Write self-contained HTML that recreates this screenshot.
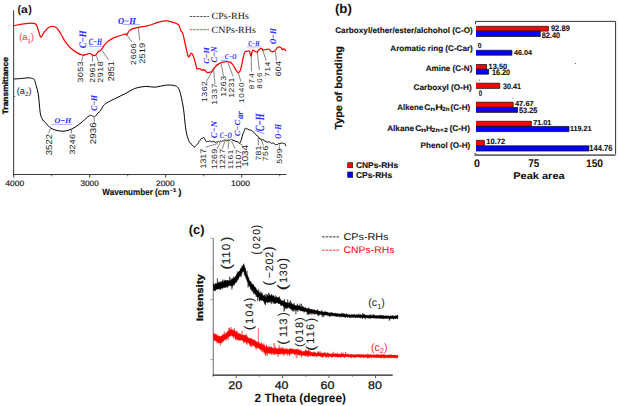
<!DOCTYPE html>
<html><head><meta charset="utf-8"><style>
html,body{margin:0;padding:0;background:#fff;width:618px;height:406px;overflow:hidden}
svg{display:block}
</style></head><body>
<svg width="618" height="406" viewBox="0 0 618 406" text-rendering="geometricPrecision">
<rect width="618" height="406" fill="#fff"/>
<line x1="13.6" y1="10.3" x2="13.6" y2="174.5" stroke="#4a4a4a" stroke-width="1.1" />
<line x1="13.1" y1="174.5" x2="286.5" y2="174.5" stroke="#3a3a3a" stroke-width="1.1" />
<line x1="13.7" y1="174.5" x2="13.7" y2="177.5" stroke="#3a3a3a" stroke-width="1" />
<line x1="89.7" y1="174.5" x2="89.7" y2="177.5" stroke="#3a3a3a" stroke-width="1" />
<line x1="165.7" y1="174.5" x2="165.7" y2="177.5" stroke="#3a3a3a" stroke-width="1" />
<line x1="241.7" y1="174.5" x2="241.7" y2="177.5" stroke="#3a3a3a" stroke-width="1" />
<line x1="51.7" y1="174.5" x2="51.7" y2="176.3" stroke="#3a3a3a" stroke-width="0.8" />
<line x1="127.7" y1="174.5" x2="127.7" y2="176.3" stroke="#3a3a3a" stroke-width="0.8" />
<line x1="203.7" y1="174.5" x2="203.7" y2="176.3" stroke="#3a3a3a" stroke-width="0.8" />
<line x1="279.7" y1="174.5" x2="279.7" y2="176.3" stroke="#3a3a3a" stroke-width="0.8" />
<line x1="13.6" y1="96.7" x2="15.2" y2="96.7" stroke="#3a3a3a" stroke-width="0.8" />
<text transform="translate(17.45,13.02) scale(0.941,1)" font-size="11.10" style='font-family:"Liberation Sans", sans-serif;font-weight:bold;font-style:normal' fill="#111" stroke="#111" stroke-width="0" >(</text>
<text transform="translate(20.92,13.42) scale(1.114,1)" font-size="10.86" style='font-family:"Liberation Sans", sans-serif;font-weight:bold;font-style:normal' fill="#111" stroke="#111" stroke-width="0" >a</text>
<text transform="translate(28.26,13.02) scale(0.973,1)" font-size="11.10" style='font-family:"Liberation Sans", sans-serif;font-weight:bold;font-style:normal' fill="#111" stroke="#111" stroke-width="0" >)</text>
<text transform="translate(8.07,114.34) rotate(-90) scale(1.070,1)" font-size="7.90" style='font-family:"Liberation Sans", sans-serif;font-weight:bold;font-style:normal' fill="#111" stroke="#111" stroke-width="0.3" >Transmittance</text>
<text transform="translate(5.3,185.82) scale(1.076,1)" font-size="7.91" style='font-family:"Liberation Sans", sans-serif;font-weight:normal;font-style:normal' fill="#222" stroke="#222" stroke-width="0.2" >4000</text>
<text transform="translate(80.49,185.82) scale(1.036,1)" font-size="7.91" style='font-family:"Liberation Sans", sans-serif;font-weight:normal;font-style:normal' fill="#222" stroke="#222" stroke-width="0.2" >3000</text>
<text transform="translate(155.98,185.82) scale(1.066,1)" font-size="7.91" style='font-family:"Liberation Sans", sans-serif;font-weight:normal;font-style:normal' fill="#222" stroke="#222" stroke-width="0.2" >2000</text>
<text transform="translate(230.95,185.82) scale(1.079,1)" font-size="7.91" style='font-family:"Liberation Sans", sans-serif;font-weight:normal;font-style:normal' fill="#222" stroke="#222" stroke-width="0.2" >1000</text>
<text transform="translate(102.37,194.69) scale(0.913,1)" font-size="8.85" style='font-family:"Liberation Sans", sans-serif;font-weight:bold;font-style:normal' fill="#111" stroke="#111" stroke-width="0.15" >Wavenumber (cm</text>
<text transform="translate(169.96,191.8) scale(1.374,1)" font-size="5.40" style='font-family:"Liberation Sans", sans-serif;font-weight:bold;font-style:normal' fill="#111" stroke="#111" stroke-width="0.1">-1</text>
<text transform="translate(178.37,194.8) scale(1.083,1)" font-size="9.00" style='font-family:"Liberation Sans", sans-serif;font-weight:bold;font-style:normal' fill="#111" stroke="#111" stroke-width="0.15">)</text>
<path d="M13.8,25.7 C15.75,25.35 21.97,23.95 25.5,23.6 C29.03,23.25 32.98,22.87 35,23.6 C37.02,24.33 36.65,25.77 37.6,28 C38.55,30.23 39.7,36.15 40.7,37 C41.7,37.85 42.4,34.62 43.6,33.1 C44.8,31.58 46.47,29.02 47.9,27.9 C49.33,26.78 50.75,26.4 52.2,26.4 C53.65,26.4 55.15,26.63 56.6,27.9 C58.05,29.17 59.47,31.7 60.9,34 C62.33,36.3 63.63,39.4 65.2,41.7 C66.77,44 68.3,45.93 70.3,47.8 C72.3,49.67 75.18,51.7 77.2,52.9 C79.22,54.1 80.82,54.77 82.4,55 C83.98,55.23 85.48,54.58 86.7,54.3 C87.92,54.02 88.75,53.18 89.7,53.3 C90.65,53.42 91.47,54.63 92.4,55 C93.33,55.37 94.37,56 95.3,55.5 C96.23,55 97.02,52.95 98,52 C98.98,51.05 99.95,51.2 101.2,49.8 C102.45,48.4 103.68,45.47 105.5,43.6 C107.32,41.73 109.85,39.87 112.1,38.6 C114.35,37.33 116.85,36.77 119,36 C121.15,35.23 123.72,34.22 125,34 C126.28,33.78 125.83,35.37 126.7,34.7 C127.57,34.03 128.33,31.22 130.2,30 C132.07,28.78 134.88,28.12 137.9,27.4 C140.92,26.68 145.13,26.5 148.3,25.7 C151.47,24.9 154.17,23.4 156.9,22.6 C159.63,21.8 162.12,20.97 164.7,20.9 C167.28,20.83 170.12,21.55 172.4,22.2 C174.68,22.85 176.97,23.35 178.4,24.8 C179.83,26.25 180.27,29.47 181,30.9 C181.73,32.33 182.08,31.1 182.8,33.4 C183.52,35.7 184.45,41.02 185.3,44.7 C186.15,48.38 187.25,53.53 187.9,55.5 C188.55,57.47 188.77,56.75 189.2,56.5 C189.63,56.25 190.14,54.51 190.5,54 C190.86,53.49 191.07,53.46 191.35,53.43 C191.63,53.4 191.89,53.37 192.2,53.8 C192.51,54.23 192.85,55.13 193.2,56 C193.55,56.87 193.97,57.94 194.3,59 C194.63,60.06 194.88,61.3 195.17,62.35 C195.46,63.4 195.74,64.22 196.03,65.3 C196.32,66.37 196.49,68.27 196.9,68.8 C197.31,69.33 198.09,68.49 198.5,68.5 C198.91,68.51 199.07,68.79 199.35,68.84 C199.63,68.89 199.91,68.65 200.2,68.8 C200.49,68.95 200.8,69.49 201.1,69.73 C201.4,69.96 201.69,70.24 202,70.2 C202.31,70.16 202.63,69.45 202.95,69.47 C203.27,69.48 203.57,70.21 203.9,70.3 C204.23,70.39 204.6,69.82 204.95,70.02 C205.3,70.22 205.56,71.07 206,71.5 C206.44,71.93 207.07,72.47 207.6,72.6 C208.13,72.73 208.68,72.37 209.2,72.3 C209.72,72.23 210.32,72.26 210.7,72.2 C211.08,72.14 211.23,72.24 211.5,71.96 C211.77,71.67 211.92,71.03 212.3,70.5 C212.68,69.97 213.18,69.55 213.8,68.8 C214.42,68.05 215.18,66.82 216,66 C216.82,65.18 217.7,64.52 218.7,63.9 C219.7,63.28 220.6,62.67 222,62.3 C223.4,61.93 225.68,61.68 227.1,61.7 C228.52,61.72 229.45,61.77 230.5,62.4 C231.55,63.03 232.62,64.43 233.4,65.5 C234.18,66.57 234.38,67.62 235.2,68.8 C236.02,69.98 237.35,72.63 238.3,72.6 C239.25,72.57 240.05,71.27 240.9,68.6 C241.75,65.93 242.73,59.37 243.4,56.6 C244.07,53.83 244.3,52.88 244.9,52 C245.5,51.12 246.27,51.45 247,51.3 C247.73,51.15 248.63,50.28 249.3,51.1 C249.97,51.92 250.45,56.32 251,56.2 C251.55,56.08 251.93,51.22 252.6,50.4 C253.27,49.58 254.27,51.03 255,51.3 C255.73,51.57 256.3,52.28 257,52 C257.7,51.72 258.4,50.18 259.2,49.6 C260,49.02 261.15,48.4 261.8,48.5 C262.45,48.6 262.3,50.05 263.1,50.2 C263.9,50.35 265.58,49.57 266.6,49.4 C267.62,49.23 268.4,48.85 269.2,49.2 C270,49.55 270.52,51.18 271.4,51.5 C272.28,51.82 273.57,51.68 274.5,51.1 C275.43,50.52 276.28,48.72 277,48 C277.72,47.28 278.13,46.87 278.8,46.8 C279.47,46.73 280.42,47.1 281,47.6 C281.58,48.1 281.87,49.58 282.3,49.8 C282.73,50.02 282.93,48.68 283.6,48.9 C284.27,49.12 285.85,50.73 286.3,51.1" fill="none" stroke="#ff0000" stroke-width="1.25" stroke-linejoin="round"/>
<path d="M13.8,79 C14.88,78.93 17.77,78.8 20.3,78.6 C22.83,78.4 26.98,77.8 29,77.8 C31.02,77.8 31.53,78.33 32.4,78.6 C33.27,78.87 33.58,78.28 34.2,79.4 C34.82,80.52 35.42,82.83 36.1,85.3 C36.78,87.77 37.73,90.75 38.3,94.2 C38.87,97.65 39.12,102.57 39.5,106 C39.88,109.43 40.05,112.47 40.6,114.8 C41.15,117.13 41.82,118.52 42.8,120 C43.78,121.48 45.32,122.45 46.5,123.7 C47.68,124.95 48.52,126.47 49.9,127.5 C51.28,128.53 52.83,129.28 54.8,129.9 C56.77,130.52 59.4,131.13 61.7,131.2 C64,131.27 66.3,131.02 68.6,130.3 C70.9,129.58 73.2,128.33 75.5,126.9 C77.8,125.47 80.1,123.57 82.4,121.7 C84.7,119.83 87.72,116.7 89.3,115.7 C90.88,114.7 91.03,115.5 91.9,115.7 C92.77,115.9 93.5,117.33 94.5,116.9 C95.5,116.47 96.9,114.12 97.9,113.1 C98.9,112.08 99.62,112.02 100.5,110.8 C101.38,109.58 102.13,107.13 103.2,105.8 C104.27,104.47 104.85,104.03 106.9,102.8 C108.95,101.57 112.33,99.98 115.5,98.4 C118.67,96.82 122.73,94.93 125.9,93.3 C129.07,91.67 131.2,89.75 134.5,88.6 C137.8,87.45 142.25,86.63 145.7,86.4 C149.15,86.17 151.9,87.4 155.2,87.2 C158.5,87 162.35,85.48 165.5,85.2 C168.65,84.92 171.95,85.02 174.1,85.5 C176.25,85.98 177.25,86.37 178.4,88.1 C179.55,89.83 180.13,92.3 181,95.9 C181.87,99.5 182.9,104.93 183.6,109.7 C184.3,114.47 184.68,120.43 185.2,124.5 C185.72,128.57 186.02,131.2 186.7,134.1 C187.38,137 188.69,140.44 189.3,141.9 C189.91,143.36 189.99,142.51 190.34,142.87 C190.69,143.23 191.03,143.61 191.38,144.06 C191.73,144.52 192.07,145.29 192.42,145.61 C192.77,145.94 193.11,145.76 193.46,146.01 C193.81,146.26 194.14,147.11 194.5,147.1 C194.86,147.09 195.26,146.31 195.63,145.94 C196.01,145.58 196.39,145.28 196.77,144.89 C197.14,144.5 197.52,144.18 197.9,143.6 C198.28,143.02 198.68,142 199.07,141.43 C199.46,140.85 199.84,140.65 200.23,140.15 C200.62,139.65 200.99,138.73 201.4,138.4 C201.81,138.07 202.27,138.32 202.7,138.18 C203.13,138.05 203.57,137.27 204,137.6 C204.43,137.93 204.87,139.44 205.3,140.16 C205.73,140.88 206.2,141.73 206.6,141.9 C207,142.07 207.32,141.29 207.68,141.21 C208.03,141.12 208.39,141.42 208.75,141.37 C209.11,141.33 209.47,140.95 209.82,140.95 C210.18,140.96 210.56,141.24 210.9,141.4 C211.24,141.56 211.54,141.83 211.86,141.89 C212.17,141.95 212.49,141.94 212.81,141.78 C213.13,141.62 213.45,140.84 213.77,140.93 C214.09,141.01 214.4,142.06 214.72,142.3 C215.04,142.53 215.36,142.39 215.68,142.33 C216,142.27 216.31,142.01 216.63,141.95 C216.95,141.89 217.27,142.05 217.59,141.95 C217.91,141.85 218.23,141.37 218.54,141.36 C218.86,141.36 219.18,141.95 219.5,141.9 C219.82,141.85 220.16,141.13 220.49,141.09 C220.81,141.06 221.14,141.72 221.47,141.68 C221.8,141.65 222.13,141.02 222.46,140.9 C222.79,140.78 223.11,140.95 223.44,140.95 C223.77,140.95 224.1,140.98 224.43,140.9 C224.76,140.82 225.09,140.45 225.41,140.47 C225.74,140.49 226.06,140.99 226.4,141 C226.74,141.01 227.12,140.68 227.47,140.52 C227.83,140.37 228.19,140.12 228.55,140.07 C228.91,140.01 229.27,140.33 229.62,140.2 C229.98,140.08 230.34,139.38 230.7,139.3 C231.06,139.22 231.42,139.58 231.77,139.75 C232.13,139.93 232.49,140.21 232.85,140.35 C233.21,140.48 233.57,140.47 233.93,140.57 C234.28,140.68 234.65,140.83 235,141 C235.35,141.17 235.69,141.48 236.04,141.59 C236.39,141.7 236.73,141.63 237.08,141.66 C237.43,141.69 237.77,141.52 238.12,141.77 C238.47,142.02 238.81,142.96 239.16,143.14 C239.51,143.31 239.81,143.47 240.2,142.8 C240.59,142.13 241.07,140.59 241.5,139.14 C241.93,137.69 242.38,135.36 242.8,134.1 C243.23,132.84 243.63,132.58 244.05,131.58 C244.47,130.58 244.9,128.54 245.3,128.1 C245.7,127.66 246.08,128.81 246.47,128.96 C246.86,129.1 247.24,128.83 247.63,128.97 C248.02,129.12 248.43,129.65 248.8,129.8 C249.17,129.95 249.52,129.77 249.88,129.87 C250.23,129.97 250.59,130.29 250.95,130.4 C251.31,130.52 251.67,130.35 252.03,130.55 C252.38,130.75 252.74,131.18 253.1,131.6 C253.46,132.02 253.82,132.71 254.17,133.05 C254.53,133.38 254.89,133.23 255.25,133.61 C255.61,133.99 255.97,134.93 256.32,135.31 C256.68,135.69 257.03,135.64 257.4,135.9 C257.77,136.16 258.18,136.39 258.57,136.87 C258.96,137.36 259.34,138.4 259.73,138.81 C260.12,139.21 260.54,139.08 260.9,139.3 C261.26,139.52 261.56,140.15 261.89,140.16 C262.21,140.16 262.54,139.37 262.87,139.34 C263.2,139.32 263.53,139.67 263.86,140.01 C264.19,140.34 264.51,141.18 264.84,141.36 C265.17,141.54 265.5,140.97 265.83,141.12 C266.16,141.26 266.49,142.07 266.81,142.2 C267.14,142.33 267.48,141.93 267.8,141.9 C268.12,141.87 268.44,142.05 268.76,142.05 C269.07,142.04 269.39,141.73 269.71,141.88 C270.03,142.03 270.35,142.69 270.67,142.95 C270.99,143.21 271.3,143.43 271.62,143.45 C271.94,143.46 272.26,143.09 272.58,143.02 C272.9,142.96 273.21,142.94 273.53,143.06 C273.85,143.17 274.17,143.39 274.49,143.69 C274.81,143.99 275.13,144.73 275.44,144.86 C275.76,145 276.05,144.55 276.4,144.5 C276.75,144.45 277.16,144.75 277.53,144.56 C277.91,144.37 278.29,143.53 278.67,143.37 C279.04,143.2 279.44,143.62 279.8,143.6 C280.16,143.58 280.49,143.34 280.84,143.24 C281.19,143.15 281.53,143.08 281.88,143.04 C282.23,143 282.57,142.82 282.92,142.98 C283.27,143.15 283.61,143.91 283.96,144.02 C284.31,144.12 284.68,143.24 285,143.6 C285.32,143.96 285.75,145.77 285.9,146.2" fill="none" stroke="#000" stroke-width="1.0" stroke-linejoin="round"/>
<line x1="189.7" y1="16.5" x2="209.2" y2="16.5" stroke="#111" stroke-width="0.7" stroke-dasharray="2.6,0.9"/>
<line x1="189.7" y1="29.7" x2="209.2" y2="29.7" stroke="#ff0000" stroke-width="0.7" stroke-dasharray="2.6,0.9"/>
<text transform="translate(211.59,19.41) scale(1.054,1)" font-size="9.53" style='font-family:"Liberation Serif", serif;font-weight:normal;font-style:normal' fill="#111" stroke="#111" stroke-width="0" >CPs-RHs</text>
<text transform="translate(211.59,32.71) scale(1.045,1)" font-size="9.53" style='font-family:"Liberation Serif", serif;font-weight:normal;font-style:normal' fill="#111" stroke="#111" stroke-width="0" >CNPs-RHs</text>
<text x="19.3" y="40.2" font-size="9.2" style='font-family:"Liberation Sans",sans-serif' fill="#ff3030">(a<tspan font-size="6.2" dy="2.4">1</tspan><tspan dy="-2.4">)</tspan></text>
<text x="16.8" y="93.6" font-size="9.2" style='font-family:"Liberation Sans",sans-serif' fill="#222">(a<tspan font-size="6.2" dy="2.4">2</tspan><tspan dy="-2.4">)</tspan></text>
<text transform="translate(83.18,82.53) rotate(-90) scale(1.15,1)" font-size="7.63" letter-spacing="0.47" style='font-family:"Liberation Sans", sans-serif;font-weight:normal;font-style:normal' fill="#1a1a1a" stroke="#1a1a1a" stroke-width="0">3053</text>
<line x1="83.5" y1="54.4" x2="81.5" y2="61.2" stroke="#333" stroke-width="0.6" />
<text transform="translate(94.58,82.63) rotate(-90) scale(1.15,1)" font-size="7.49" letter-spacing="0.20" style='font-family:"Liberation Sans", sans-serif;font-weight:normal;font-style:normal' fill="#1a1a1a" stroke="#1a1a1a" stroke-width="0">2961</text>
<line x1="92.4" y1="55" x2="92.4" y2="61.8" stroke="#333" stroke-width="0.6" />
<text transform="translate(103.48,82.64) rotate(-90) scale(1.15,1)" font-size="7.63" letter-spacing="0.50" style='font-family:"Liberation Sans", sans-serif;font-weight:normal;font-style:normal' fill="#1a1a1a" stroke="#1a1a1a" stroke-width="0">2918</text>
<line x1="96.4" y1="55.7" x2="98.5" y2="61.8" stroke="#333" stroke-width="0.6" />
<text transform="translate(113.57,81.25) rotate(-90) scale(1.0548280879087195,1)" font-size="8.47" letter-spacing="0.00" style='font-family:"Liberation Sans", sans-serif;font-weight:normal;font-style:normal' fill="#1a1a1a" stroke="#1a1a1a" stroke-width="0">2851</text>
<line x1="101.8" y1="50.3" x2="108.6" y2="59.8" stroke="#333" stroke-width="0.6" />
<text transform="translate(135.78,64.93) rotate(-90) scale(1.15,1)" font-size="7.49" letter-spacing="0.68" style='font-family:"Liberation Sans", sans-serif;font-weight:normal;font-style:normal' fill="#1a1a1a" stroke="#1a1a1a" stroke-width="0">2606</text>
<line x1="126.7" y1="34.7" x2="131.9" y2="42" stroke="#333" stroke-width="0.6" />
<text transform="translate(144.77,63.77) rotate(-90) scale(1.15,1)" font-size="8.05" letter-spacing="0.09" style='font-family:"Liberation Sans", sans-serif;font-weight:normal;font-style:normal' fill="#1a1a1a" stroke="#1a1a1a" stroke-width="0">2519</text>
<line x1="138.3" y1="27.4" x2="139.7" y2="40.3" stroke="#333" stroke-width="0.6" />
<text transform="translate(206.78,102.06) rotate(-90) scale(1.15,1)" font-size="7.49" letter-spacing="0.50" style='font-family:"Liberation Sans", sans-serif;font-weight:normal;font-style:normal' fill="#1a1a1a" stroke="#1a1a1a" stroke-width="0">1362</text>
<line x1="212.4" y1="71.2" x2="206.4" y2="81.6" stroke="#333" stroke-width="0.6" />
<text transform="translate(217.18,104.66) rotate(-90) scale(1.15,1)" font-size="7.49" letter-spacing="0.56" style='font-family:"Liberation Sans", sans-serif;font-weight:normal;font-style:normal' fill="#1a1a1a" stroke="#1a1a1a" stroke-width="0">1337</text>
<line x1="213.3" y1="67.8" x2="215" y2="84" stroke="#333" stroke-width="0.6" />
<text transform="translate(225.78,96.86) rotate(-90) scale(1.15,1)" font-size="7.49" letter-spacing="0.49" style='font-family:"Liberation Sans", sans-serif;font-weight:normal;font-style:normal' fill="#1a1a1a" stroke="#1a1a1a" stroke-width="0">1263</text>
<line x1="221" y1="63.4" x2="223.6" y2="76.4" stroke="#333" stroke-width="0.6" />
<text transform="translate(234.38,97.66) rotate(-90) scale(1.15,1)" font-size="7.49" letter-spacing="0.24" style='font-family:"Liberation Sans", sans-serif;font-weight:normal;font-style:normal' fill="#1a1a1a" stroke="#1a1a1a" stroke-width="0">1231</text>
<line x1="227.9" y1="62.6" x2="233.1" y2="76.4" stroke="#333" stroke-width="0.6" />
<text transform="translate(244.48,103.03) rotate(-90) scale(1.15,1)" font-size="7.20" letter-spacing="0.65" style='font-family:"Liberation Sans", sans-serif;font-weight:normal;font-style:normal' fill="#1a1a1a" stroke="#1a1a1a" stroke-width="0">1040</text>
<line x1="238.3" y1="72.9" x2="240.9" y2="81.5" stroke="#333" stroke-width="0.6" />
<text transform="translate(254.08,89.25) rotate(-90) scale(1.15,1)" font-size="6.92" letter-spacing="1.17" style='font-family:"Liberation Sans", sans-serif;font-weight:normal;font-style:normal' fill="#1a1a1a" stroke="#1a1a1a" stroke-width="0">874</text>
<line x1="251.3" y1="52.4" x2="251.4" y2="71.5" stroke="#333" stroke-width="0.6" />
<text transform="translate(262.08,88.65) rotate(-90) scale(1.15,1)" font-size="6.92" letter-spacing="1.22" style='font-family:"Liberation Sans", sans-serif;font-weight:normal;font-style:normal' fill="#1a1a1a" stroke="#1a1a1a" stroke-width="0">806</text>
<line x1="257.2" y1="50.7" x2="259.4" y2="70.3" stroke="#333" stroke-width="0.6" />
<text transform="translate(270.15,77.02) rotate(-90) scale(1.15,1)" font-size="7.12" letter-spacing="0.78" style='font-family:"Liberation Sans", sans-serif;font-weight:normal;font-style:normal' fill="#1a1a1a" stroke="#1a1a1a" stroke-width="0">714</text>
<line x1="262.4" y1="49" x2="266.2" y2="60.8" stroke="#333" stroke-width="0.6" />
<text transform="translate(280.57,76.35) rotate(-90) scale(1.15,1)" font-size="7.77" letter-spacing="0.22" style='font-family:"Liberation Sans", sans-serif;font-weight:normal;font-style:normal' fill="#1a1a1a" stroke="#1a1a1a" stroke-width="0">604</text>
<line x1="275.6" y1="51.6" x2="276.4" y2="60.6" stroke="#333" stroke-width="0.6" />
<text transform="translate(51.87,155.16) rotate(-90) scale(1.102950819672133,1)" font-size="8.62" letter-spacing="0.00" style='font-family:"Liberation Sans", sans-serif;font-weight:normal;font-style:normal' fill="#1a1a1a" stroke="#1a1a1a" stroke-width="0">3522</text>
<line x1="50.5" y1="128.9" x2="48.6" y2="133" stroke="#333" stroke-width="0.6" />
<text transform="translate(74.67,154.54) rotate(-90) scale(1.15,1)" font-size="7.77" letter-spacing="0.16" style='font-family:"Liberation Sans", sans-serif;font-weight:normal;font-style:normal' fill="#1a1a1a" stroke="#1a1a1a" stroke-width="0">3246</text>
<line x1="71.4" y1="129.9" x2="71.4" y2="133.5" stroke="#333" stroke-width="0.6" />
<text transform="translate(95.57,144.19) rotate(-90) scale(1.15,1)" font-size="8.47" letter-spacing="0.04" style='font-family:"Liberation Sans", sans-serif;font-weight:normal;font-style:normal' fill="#1a1a1a" stroke="#1a1a1a" stroke-width="0">2936</text>
<line x1="94.2" y1="117.9" x2="94.2" y2="122.4" stroke="#333" stroke-width="0.6" />
<text transform="translate(206.17,168.47) rotate(-90) scale(1.095215348121289,1)" font-size="8.05" letter-spacing="0.00" style='font-family:"Liberation Sans", sans-serif;font-weight:normal;font-style:normal' fill="#1a1a1a" stroke="#1a1a1a" stroke-width="0">1317</text>
<line x1="217.8" y1="143.6" x2="205.7" y2="147.1" stroke="#333" stroke-width="0.6" />
<text transform="translate(217.38,169.27) rotate(-90) scale(1.15,1)" font-size="7.63" letter-spacing="0.25" style='font-family:"Liberation Sans", sans-serif;font-weight:normal;font-style:normal' fill="#1a1a1a" stroke="#1a1a1a" stroke-width="0">1269</text>
<line x1="220.3" y1="142.8" x2="216.9" y2="148.8" stroke="#333" stroke-width="0.6" />
<text transform="translate(225.15,169.26) rotate(-90) scale(1.15,1)" font-size="7.59" letter-spacing="0.29" style='font-family:"Liberation Sans", sans-serif;font-weight:normal;font-style:normal' fill="#1a1a1a" stroke="#1a1a1a" stroke-width="0">1227</text>
<line x1="224.7" y1="141.9" x2="222.1" y2="148.8" stroke="#333" stroke-width="0.6" />
<text transform="translate(233.18,169.23) rotate(-90) scale(1.15,1)" font-size="7.20" letter-spacing="0.55" style='font-family:"Liberation Sans", sans-serif;font-weight:normal;font-style:normal' fill="#1a1a1a" stroke="#1a1a1a" stroke-width="0">1161</text>
<line x1="229" y1="140.2" x2="228.1" y2="148.8" stroke="#333" stroke-width="0.6" />
<text transform="translate(240.58,169.26) rotate(-90) scale(1.15,1)" font-size="7.49" letter-spacing="0.36" style='font-family:"Liberation Sans", sans-serif;font-weight:normal;font-style:normal' fill="#1a1a1a" stroke="#1a1a1a" stroke-width="0">1107</text>
<line x1="231.6" y1="141" x2="235" y2="148.8" stroke="#333" stroke-width="0.6" />
<text transform="translate(248.36,166.74) rotate(-90) scale(1.1154675189534675,1)" font-size="8.76" letter-spacing="0.00" style='font-family:"Liberation Sans", sans-serif;font-weight:normal;font-style:normal' fill="#1a1a1a" stroke="#1a1a1a" stroke-width="0">1034</text>
<line x1="238.4" y1="142.8" x2="242.8" y2="145.3" stroke="#333" stroke-width="0.6" />
<text transform="translate(261.28,160.44) rotate(-90) scale(1.15,1)" font-size="7.49" letter-spacing="0.13" style='font-family:"Liberation Sans", sans-serif;font-weight:normal;font-style:normal' fill="#1a1a1a" stroke="#1a1a1a" stroke-width="0">781</text>
<line x1="258.3" y1="136.7" x2="258.3" y2="145.3" stroke="#333" stroke-width="0.6" />
<text transform="translate(268.18,161.34) rotate(-90) scale(1.15,1)" font-size="7.49" letter-spacing="0.50" style='font-family:"Liberation Sans", sans-serif;font-weight:normal;font-style:normal' fill="#1a1a1a" stroke="#1a1a1a" stroke-width="0">756</text>
<line x1="260.9" y1="138.4" x2="263.4" y2="145.3" stroke="#333" stroke-width="0.6" />
<text transform="translate(281.98,163.74) rotate(-90) scale(1.15,1)" font-size="7.49" letter-spacing="0.43" style='font-family:"Liberation Sans", sans-serif;font-weight:normal;font-style:normal' fill="#1a1a1a" stroke="#1a1a1a" stroke-width="0">599</text>
<line x1="279" y1="143.6" x2="279.5" y2="148.8" stroke="#333" stroke-width="0.6" />
<text transform="translate(85.68,48.37) rotate(-90) scale(0.870,1)" font-size="10.05" style='font-family:"Liberation Serif", serif;font-weight:bold;font-style:italic' fill="#2a2aff" stroke="#2a2aff" stroke-width="0.05" >C−H</text>
<text transform="translate(88.7,45.28) scale(0.676,1)" font-size="9.60" style='font-family:"Liberation Serif", serif;font-weight:bold;font-style:italic' fill="#2a2aff" stroke="#2a2aff" stroke-width="0.05" >C−H</text>
<line x1="89" y1="46.4" x2="102.5" y2="46.4" stroke="#8c8cff" stroke-width="0.7" />
<text transform="translate(117.92,23.79) scale(0.946,1)" font-size="9.00" style='font-family:"Liberation Serif", serif;font-weight:bold;font-style:italic' fill="#2a2aff" stroke="#2a2aff" stroke-width="0.05" >O−H</text>
<line x1="122.8" y1="24.5" x2="139.8" y2="24.5" stroke="#8c8cff" stroke-width="0.7" />
<text transform="translate(208.5,63.65) rotate(-90) scale(1.045,1)" font-size="7.67" style='font-family:"Liberation Serif", serif;font-weight:bold;font-style:italic' fill="#2a2aff" stroke="#2a2aff" stroke-width="0.05" >C−H</text>
<text transform="translate(217.49,62.45) rotate(-90) scale(0.905,1)" font-size="8.86" style='font-family:"Liberation Serif", serif;font-weight:bold;font-style:italic' fill="#2a2aff" stroke="#2a2aff" stroke-width="0.05" >C−N</text>
<text transform="translate(224.83,59.2) scale(0.774,1)" font-size="7.52" style='font-family:"Liberation Serif", serif;font-weight:bold;font-style:italic' fill="#2a2aff" stroke="#2a2aff" stroke-width="0.05" >C−O</text>
<line x1="220.7" y1="60.3" x2="227.5" y2="60.3" stroke="#8c8cff" stroke-width="0.7" />
<text transform="translate(248.13,45.8) scale(0.732,1)" font-size="7.67" style='font-family:"Liberation Serif", serif;font-weight:bold;font-style:italic' fill="#2a2aff" stroke="#2a2aff" stroke-width="0.05" >C−H</text>
<line x1="246.9" y1="46.9" x2="261.6" y2="46.9" stroke="#8c8cff" stroke-width="0.7" />
<text transform="translate(276.09,44.05) rotate(-90) scale(0.849,1)" font-size="8.86" style='font-family:"Liberation Serif", serif;font-weight:bold;font-style:italic' fill="#2a2aff" stroke="#2a2aff" stroke-width="0.05" >O−H</text>
<text transform="translate(54.54,123.3) scale(1.094,1)" font-size="7.22" style='font-family:"Liberation Serif", serif;font-weight:bold;font-style:italic' fill="#2a2aff" stroke="#2a2aff" stroke-width="0.05" >O−H</text>
<line x1="51.7" y1="124.4" x2="72" y2="124.4" stroke="#8c8cff" stroke-width="0.7" />
<text transform="translate(96.89,110.73) rotate(-90) scale(0.854,1)" font-size="8.86" style='font-family:"Liberation Serif", serif;font-weight:bold;font-style:italic' fill="#2a2aff" stroke="#2a2aff" stroke-width="0.05" >C−H</text>
<text transform="translate(216.89,138.27) rotate(-90) scale(0.973,1)" font-size="8.86" style='font-family:"Liberation Serif", serif;font-weight:bold;font-style:italic' fill="#2a2aff" stroke="#2a2aff" stroke-width="0.05" >C−N</text>
<text transform="translate(219.82,138.29) scale(0.723,1)" font-size="8.26" style='font-family:"Liberation Serif", serif;font-weight:bold;font-style:italic' fill="#2a2aff" stroke="#2a2aff" stroke-width="0.05" >C−O</text>
<line x1="223.9" y1="139.3" x2="233.8" y2="139.3" stroke="#8c8cff" stroke-width="0.7" />
<text transform="translate(240.4,136.16) rotate(-90) scale(1.053,1)" font-size="7.96" style='font-family:"Liberation Serif", serif;font-weight:bold;font-style:italic' fill="#2a2aff" stroke="#2a2aff" stroke-width="0.05" >C−C</text>
<text transform="translate(242.68,119.08) rotate(-90) scale(0.935,1)" font-size="9.24" style='font-family:"Liberation Serif", serif;font-weight:bold;font-style:italic' fill="#2a2aff" stroke="#2a2aff" stroke-width="0.05" >ar</text>
<text transform="translate(264.15,133.56) rotate(-90) scale(0.672,1)" font-size="12.73" style='font-family:"Liberation Serif", serif;font-weight:bold;font-style:italic' fill="#2a2aff" stroke="#2a2aff" stroke-width="0.05" >/C−H</text>
<text transform="translate(281.49,138.63) rotate(-90) scale(0.771,1)" font-size="9.00" style='font-family:"Liberation Serif", serif;font-weight:bold;font-style:italic' fill="#2a2aff" stroke="#2a2aff" stroke-width="0.05" >O−H</text>
<text transform="translate(334.91,13.04) scale(1.028,1)" font-size="12.93" style='font-family:"Liberation Sans", sans-serif;font-weight:bold;font-style:normal' fill="#111" stroke="#111" stroke-width="0" >(b)</text>
<text transform="translate(342.13,129.62) rotate(-90) scale(1.058,1)" font-size="10.25" style='font-family:"Liberation Sans", sans-serif;font-weight:bold;font-style:normal' fill="#111" stroke="#111" stroke-width="0.2" >Type of bonding</text>
<path d="M475.6,24.3 L475.6,21.4 L615.6,21.4 L615.6,154.3" fill="none" stroke="#333" stroke-width="1"/>
<path d="M475.4,153 L475.4,155.1 L615.6,155.1" fill="none" stroke="#6a6a6a" stroke-width="1.8"/>
<rect x="476" y="26.3" width="72.45" height="4.8" fill="#ff0000"/>
<path d="M476,26.3 L548.45,26.3 L548.45,31.1 L476,31.1" fill="none" stroke="#111" stroke-width="0.75"/>
<rect x="476" y="31.1" width="64.27" height="5.4" fill="#0000ff"/>
<path d="M476,31.1 L540.27,31.1 L540.27,36.5 L476,36.5" fill="none" stroke="#111" stroke-width="0.75"/>
<rect x="476" y="50.3" width="35.91" height="4.9" fill="#0000ff"/>
<path d="M476,50.3 L511.91,50.3 L511.91,55.2 L476,55.2" fill="none" stroke="#111" stroke-width="0.75"/>
<rect x="476" y="64.5" width="10.53" height="4.8" fill="#ff0000"/>
<path d="M476,64.5 L486.53,64.5 L486.53,69.3 L476,69.3" fill="none" stroke="#111" stroke-width="0.75"/>
<rect x="476" y="69.3" width="12.64" height="4.9" fill="#0000ff"/>
<path d="M476,69.3 L488.64,69.3 L488.64,74.2 L476,74.2" fill="none" stroke="#111" stroke-width="0.75"/>
<rect x="476" y="83.2" width="23.72" height="5.2" fill="#ff0000"/>
<path d="M476,83.2 L499.72,83.2 L499.72,88.4 L476,88.4" fill="none" stroke="#111" stroke-width="0.75"/>
<rect x="476" y="102.2" width="37.18" height="5.2" fill="#ff0000"/>
<path d="M476,102.2 L513.18,102.2 L513.18,107.4 L476,107.4" fill="none" stroke="#111" stroke-width="0.75"/>
<rect x="476" y="107.4" width="41.54" height="5" fill="#0000ff"/>
<path d="M476,107.4 L517.53,107.4 L517.53,112.4 L476,112.4" fill="none" stroke="#111" stroke-width="0.75"/>
<rect x="476" y="121.3" width="55.39" height="5.1" fill="#ff0000"/>
<path d="M476,121.3 L531.39,121.3 L531.39,126.4 L476,126.4" fill="none" stroke="#111" stroke-width="0.75"/>
<rect x="476" y="126.4" width="92.98" height="5.2" fill="#0000ff"/>
<path d="M476,126.4 L568.98,126.4 L568.98,131.6 L476,131.6" fill="none" stroke="#111" stroke-width="0.75"/>
<rect x="476" y="140.3" width="8.36" height="5.5" fill="#ff0000"/>
<path d="M476,140.3 L484.36,140.3 L484.36,145.8 L476,145.8" fill="none" stroke="#111" stroke-width="0.75"/>
<rect x="476" y="145.8" width="112.91" height="5.2" fill="#0000ff"/>
<path d="M476,145.8 L588.91,145.8 L588.91,151 L476,151" fill="none" stroke="#111" stroke-width="0.75"/>
<circle cx="575.3" cy="63.4" r="0.55" fill="#555"/>
<circle cx="479.6" cy="80.1" r="0.55" fill="#555"/>
<circle cx="513" cy="98" r="0.55" fill="#555"/>
<text transform="translate(550.89,31.37) scale(0.929,1)" font-size="8.19" style='font-family:"Liberation Sans", sans-serif;font-weight:bold;font-style:normal' fill="#111" stroke="#111" stroke-width="0.1" >92.89</text>
<text transform="translate(541.71,37.97) scale(0.904,1)" font-size="8.19" style='font-family:"Liberation Sans", sans-serif;font-weight:bold;font-style:normal' fill="#111" stroke="#111" stroke-width="0.1" >82.40</text>
<text transform="translate(477.78,48.38) scale(0.953,1)" font-size="7.06" style='font-family:"Liberation Sans", sans-serif;font-weight:bold;font-style:normal' fill="#111" stroke="#111" stroke-width="0.1" >0</text>
<text transform="translate(513.94,55.18) scale(1.021,1)" font-size="7.06" style='font-family:"Liberation Sans", sans-serif;font-weight:bold;font-style:normal' fill="#111" stroke="#111" stroke-width="0.1" >46.04</text>
<text transform="translate(488.58,68.96) scale(0.975,1)" font-size="7.61" style='font-family:"Liberation Sans", sans-serif;font-weight:bold;font-style:normal' fill="#111" stroke="#111" stroke-width="0.1" >13.50</text>
<text transform="translate(491.89,75.37) scale(0.906,1)" font-size="8.05" style='font-family:"Liberation Sans", sans-serif;font-weight:bold;font-style:normal' fill="#111" stroke="#111" stroke-width="0.1" >16.20</text>
<text transform="translate(503.08,88.66) scale(0.899,1)" font-size="8.03" style='font-family:"Liberation Sans", sans-serif;font-weight:bold;font-style:normal' fill="#111" stroke="#111" stroke-width="0.1" >30.41</text>
<text transform="translate(478.81,95.67) scale(0.744,1)" font-size="8.19" style='font-family:"Liberation Sans", sans-serif;font-weight:bold;font-style:normal' fill="#111" stroke="#111" stroke-width="0.1" >0</text>
<text transform="translate(514.94,106.08) scale(1.045,1)" font-size="7.20" style='font-family:"Liberation Sans", sans-serif;font-weight:bold;font-style:normal' fill="#111" stroke="#111" stroke-width="0.1" >47.67</text>
<text transform="translate(519.02,112.66) scale(0.933,1)" font-size="7.89" style='font-family:"Liberation Sans", sans-serif;font-weight:bold;font-style:normal' fill="#111" stroke="#111" stroke-width="0.1" >53.25</text>
<text transform="translate(533.24,124.98) scale(1.005,1)" font-size="7.20" style='font-family:"Liberation Sans", sans-serif;font-weight:bold;font-style:normal' fill="#111" stroke="#111" stroke-width="0.1" >71.01</text>
<text transform="translate(570,131.18) scale(0.982,1)" font-size="7.34" style='font-family:"Liberation Sans", sans-serif;font-weight:bold;font-style:normal' fill="#111" stroke="#111" stroke-width="0.1" >119.21</text>
<text transform="translate(486.37,143.98) scale(0.989,1)" font-size="7.63" style='font-family:"Liberation Sans", sans-serif;font-weight:bold;font-style:normal' fill="#111" stroke="#111" stroke-width="0.1" >10.72</text>
<text transform="translate(589.37,151.36) scale(0.864,1)" font-size="8.76" style='font-family:"Liberation Sans", sans-serif;font-weight:bold;font-style:normal' fill="#111" stroke="#111" stroke-width="0.1" >144.76</text>
<text transform="translate(474.06,166.62) scale(0.970,1)" font-size="10.95" style='font-family:"Liberation Sans", sans-serif;font-weight:bold;font-style:normal' fill="#111" stroke="#111" stroke-width="0" >0</text>
<text transform="translate(528.25,166.62) scale(0.895,1)" font-size="11.11" style='font-family:"Liberation Sans", sans-serif;font-weight:bold;font-style:normal' fill="#111" stroke="#111" stroke-width="0" >75</text>
<text transform="translate(585.93,166.62) scale(0.937,1)" font-size="10.95" style='font-family:"Liberation Sans", sans-serif;font-weight:bold;font-style:normal' fill="#111" stroke="#111" stroke-width="0" >150</text>
<text transform="translate(513.14,179.43) scale(1.133,1)" font-size="9.74" style='font-family:"Liberation Sans", sans-serif;font-weight:bold;font-style:normal' fill="#111" stroke="#111" stroke-width="0" >Peak area</text>
<text transform="translate(335.22,33.2) scale(1.009,1)" font-size="8.10" style='font-family:"Liberation Sans", sans-serif;font-weight:bold;font-style:normal' fill="#111" stroke="#111" stroke-width="0.12">Carboxyl/ether/ester/alchohol (C-O)</text>
<text transform="translate(390.36,50.9) scale(1.002,1)" font-size="8.10" style='font-family:"Liberation Sans", sans-serif;font-weight:bold;font-style:normal' fill="#111" stroke="#111" stroke-width="0.12">Aromatic ring (C-Car)</text>
<text transform="translate(425.66,71.4) scale(0.998,1)" font-size="8.10" style='font-family:"Liberation Sans", sans-serif;font-weight:bold;font-style:normal' fill="#111" stroke="#111" stroke-width="0.12">Amine (C-N)</text>
<text transform="translate(413.52,90.1) scale(1.019,1)" font-size="8.10" style='font-family:"Liberation Sans", sans-serif;font-weight:bold;font-style:normal' fill="#111" stroke="#111" stroke-width="0.12">Carboxyl (O-H)</text>
<text transform="translate(420.62,148.1) scale(1.003,1)" font-size="8.10" style='font-family:"Liberation Sans", sans-serif;font-weight:bold;font-style:normal' fill="#111" stroke="#111" stroke-width="0.12">Phenol (O-H)</text>
<text transform="translate(397.36,109.9) scale(0.969,1)" font-size="8.10" style='font-family:"Liberation Sans", sans-serif;font-weight:bold;font-style:normal' fill="#111" stroke="#111" stroke-width="0.12">Alkene</text>
<text transform="translate(424.21,109.9) scale(1.054,1)" font-size="8.10" style='font-family:"Liberation Sans", sans-serif;font-weight:bold;font-style:normal' fill="#111" stroke="#111" stroke-width="0.12">C</text>
<text transform="translate(430.32,110.9) scale(1.346,1)" font-size="6.00" style='font-family:"Liberation Sans", sans-serif;font-weight:bold;font-style:normal' fill="#111" stroke="#111" stroke-width="0.1">n</text>
<text transform="translate(435.26,109.9) scale(1.298,1)" font-size="8.10" style='font-family:"Liberation Sans", sans-serif;font-weight:bold;font-style:normal' fill="#111" stroke="#111" stroke-width="0.12">H</text>
<text transform="translate(442.33,110.9) scale(1.043,1)" font-size="6.00" style='font-family:"Liberation Sans", sans-serif;font-weight:bold;font-style:normal' fill="#111" stroke="#111" stroke-width="0.1">2n</text>
<text transform="translate(450.56,109.9) scale(0.995,1)" font-size="8.10" style='font-family:"Liberation Sans", sans-serif;font-weight:bold;font-style:normal' fill="#111" stroke="#111" stroke-width="0.12">(C-H)</text>
<text transform="translate(387.16,130.6) scale(1.011,1)" font-size="8.10" style='font-family:"Liberation Sans", sans-serif;font-weight:bold;font-style:normal' fill="#111" stroke="#111" stroke-width="0.12">Alkane</text>
<text transform="translate(415.3,130.6) scale(1.073,1)" font-size="8.10" style='font-family:"Liberation Sans", sans-serif;font-weight:bold;font-style:normal' fill="#111" stroke="#111" stroke-width="0.12">C</text>
<text transform="translate(421.09,131.8) scale(1.415,1)" font-size="6.00" style='font-family:"Liberation Sans", sans-serif;font-weight:bold;font-style:normal' fill="#111" stroke="#111" stroke-width="0.1">n</text>
<text transform="translate(425.99,130.6) scale(1.046,1)" font-size="8.10" style='font-family:"Liberation Sans", sans-serif;font-weight:bold;font-style:normal' fill="#111" stroke="#111" stroke-width="0.12">H</text>
<text transform="translate(431.61,131.8) scale(1.172,1)" font-size="6.00" style='font-family:"Liberation Sans", sans-serif;font-weight:bold;font-style:normal' fill="#111" stroke="#111" stroke-width="0.1">2n+2</text>
<text transform="translate(449.44,130.6) scale(1.037,1)" font-size="8.10" style='font-family:"Liberation Sans", sans-serif;font-weight:bold;font-style:normal' fill="#111" stroke="#111" stroke-width="0.12">(C-H)</text>
<rect x="347.7" y="162.7" width="5" height="5" fill="#ff0000" stroke="#111" stroke-width="0.6"/>
<rect x="347.7" y="172" width="5" height="5.4" fill="#0000ff" stroke="#111" stroke-width="0.6"/>
<text transform="translate(355.93,168.04) scale(1.008,1)" font-size="8.40" style='font-family:"Liberation Sans", sans-serif;font-weight:bold;font-style:normal' fill="#111" stroke="#111" stroke-width="0.15" >CNPs-RHs</text>
<text transform="translate(355.93,177.84) scale(0.989,1)" font-size="8.55" style='font-family:"Liberation Sans", sans-serif;font-weight:bold;font-style:normal' fill="#111" stroke="#111" stroke-width="0.15" >CPs-RHs</text>
<text transform="translate(188.73,233.84) scale(0.996,1)" font-size="12.93" style='font-family:"Liberation Sans", sans-serif;font-weight:bold;font-style:normal' fill="#111" stroke="#111" stroke-width="0" >(c)</text>
<line x1="213.3" y1="238.3" x2="213.3" y2="375" stroke="#7a7a7a" stroke-width="1.1" />
<line x1="212.8" y1="375.1" x2="392.7" y2="375.1" stroke="#222" stroke-width="1.2" />
<line x1="210.5" y1="238.3" x2="213.3" y2="238.3" stroke="#8a8a8a" stroke-width="0.8" />
<line x1="210.5" y1="299.6" x2="213.3" y2="299.6" stroke="#8a8a8a" stroke-width="0.8" />
<line x1="210.5" y1="359.6" x2="213.3" y2="359.6" stroke="#8a8a8a" stroke-width="0.8" />
<line x1="211.8" y1="268" x2="213.3" y2="268" stroke="#9a9a9a" stroke-width="0.7" />
<line x1="211.8" y1="329.8" x2="213.3" y2="329.8" stroke="#9a9a9a" stroke-width="0.7" />
<line x1="212.9" y1="375.1" x2="212.9" y2="376.7" stroke="#3a3a3a" stroke-width="0.8" />
<line x1="236.13" y1="375.1" x2="236.13" y2="378.1" stroke="#3a3a3a" stroke-width="0.8" />
<line x1="259.36" y1="375.1" x2="259.36" y2="376.7" stroke="#3a3a3a" stroke-width="0.8" />
<line x1="282.59" y1="375.1" x2="282.59" y2="378.1" stroke="#3a3a3a" stroke-width="0.8" />
<line x1="305.82" y1="375.1" x2="305.82" y2="376.7" stroke="#3a3a3a" stroke-width="0.8" />
<line x1="329.05" y1="375.1" x2="329.05" y2="378.1" stroke="#3a3a3a" stroke-width="0.8" />
<line x1="352.28" y1="375.1" x2="352.28" y2="376.7" stroke="#3a3a3a" stroke-width="0.8" />
<line x1="375.51" y1="375.1" x2="375.51" y2="378.1" stroke="#3a3a3a" stroke-width="0.8" />
<text transform="translate(228.19,389.47) scale(1.142,1)" font-size="11.09" style='font-family:"Liberation Sans", sans-serif;font-weight:normal;font-style:normal' fill="#111" stroke="#111" stroke-width="0.25" >20</text>
<text transform="translate(274.74,389.47) scale(1.112,1)" font-size="11.09" style='font-family:"Liberation Sans", sans-serif;font-weight:normal;font-style:normal' fill="#111" stroke="#111" stroke-width="0.25" >40</text>
<text transform="translate(320.39,389.47) scale(1.134,1)" font-size="11.09" style='font-family:"Liberation Sans", sans-serif;font-weight:normal;font-style:normal' fill="#111" stroke="#111" stroke-width="0.25" >60</text>
<text transform="translate(367.98,389.47) scale(1.125,1)" font-size="11.09" style='font-family:"Liberation Sans", sans-serif;font-weight:normal;font-style:normal' fill="#111" stroke="#111" stroke-width="0.25" >80</text>
<text transform="translate(254.56,401.78) scale(0.986,1)" font-size="12.01" style='font-family:"Liberation Sans", sans-serif;font-weight:bold;font-style:normal' fill="#111" stroke="#111" stroke-width="0" >2 Theta (degree)</text>
<text transform="translate(202.71,321.12) rotate(-90) scale(1.228,1)" font-size="9.33" style='font-family:"Liberation Sans", sans-serif;font-weight:bold;font-style:normal' fill="#111" stroke="#111" stroke-width="0.3" >Intensity</text>
<line x1="322.1" y1="236.9" x2="339.6" y2="236.9" stroke="#000" stroke-width="0.8" stroke-dasharray="2.6,1"/>
<line x1="322.1" y1="250.2" x2="339.6" y2="250.2" stroke="#ff0000" stroke-width="0.8" stroke-dasharray="2.6,1"/>
<text transform="translate(343.55,240.2) scale(1.107,1)" font-size="9.75" style='font-family:"Liberation Sans", sans-serif;font-weight:normal;font-style:normal' fill="#111" stroke="#111" stroke-width="0" >CPs-RHs</text>
<text transform="translate(343.57,253.11) scale(1.082,1)" font-size="9.60" style='font-family:"Liberation Sans", sans-serif;font-weight:normal;font-style:normal' fill="#ff0000" stroke="#ff0000" stroke-width="0" >CNPs-RHs</text>
<text x="368.3" y="306.3" font-size="10.6" style='font-family:"Liberation Sans",sans-serif' fill="#222">(c<tspan font-size="7.4" dy="2.4">1</tspan><tspan dy="-2.4">)</tspan></text>
<text x="371.0" y="350.6" font-size="10.6" style='font-family:"Liberation Sans",sans-serif' fill="#ff2020">(c<tspan font-size="7.4" dy="2.4">2</tspan><tspan dy="-2.4">)</tspan></text>
<text transform="translate(230.82,241.44) rotate(-90) scale(1.038,1)" font-size="14.17" style='font-family:"Liberation Sans", sans-serif;font-weight:normal;font-style:normal' fill="#1a1a1a" stroke="#1a1a1a" stroke-width="0.1" >)</text>
<text transform="translate(230.14,264.33) rotate(-90) scale(1.0,1)" font-size="11.58" letter-spacing="1.06" style='font-family:"Liberation Sans", sans-serif;font-weight:normal;font-style:normal' fill="#1a1a1a" stroke="#1a1a1a" stroke-width="0.1">110</text>
<text transform="translate(230.82,270.1) rotate(-90) scale(1.304,1)" font-size="14.17" style='font-family:"Liberation Sans", sans-serif;font-weight:normal;font-style:normal' fill="#1a1a1a" stroke="#1a1a1a" stroke-width="0.1" >(</text>
<text transform="translate(259.76,228.41) rotate(-90) scale(0.910,1)" font-size="12.02" style='font-family:"Liberation Sans", sans-serif;font-weight:normal;font-style:normal' fill="#1a1a1a" stroke="#1a1a1a" stroke-width="0.1" >)</text>
<text transform="translate(259.65,248.95) rotate(-90) scale(1.0,1)" font-size="10.31" letter-spacing="1.35" style='font-family:"Liberation Sans", sans-serif;font-weight:normal;font-style:normal' fill="#1a1a1a" stroke="#1a1a1a" stroke-width="0.1">020</text>
<text transform="translate(259.76,254.63) rotate(-90) scale(0.910,1)" font-size="12.02" style='font-family:"Liberation Sans", sans-serif;font-weight:normal;font-style:normal' fill="#1a1a1a" stroke="#1a1a1a" stroke-width="0.1" >(</text>
<text transform="translate(273.13,250.93) rotate(-90) scale(1.051,1)" font-size="13.63" style='font-family:"Liberation Sans", sans-serif;font-weight:normal;font-style:normal' fill="#1a1a1a" stroke="#1a1a1a" stroke-width="0.1" >)</text>
<text transform="translate(273.35,278.28) rotate(-90) scale(1.0,1)" font-size="10.73" letter-spacing="0.80" style='font-family:"Liberation Sans", sans-serif;font-weight:normal;font-style:normal' fill="#1a1a1a" stroke="#1a1a1a" stroke-width="0.1">−202</text>
<text transform="translate(273.13,285.74) rotate(-90) scale(1.051,1)" font-size="13.63" style='font-family:"Liberation Sans", sans-serif;font-weight:normal;font-style:normal' fill="#1a1a1a" stroke="#1a1a1a" stroke-width="0.1" >(</text>
<text transform="translate(287.23,262.43) rotate(-90) scale(1.024,1)" font-size="13.63" style='font-family:"Liberation Sans", sans-serif;font-weight:normal;font-style:normal' fill="#1a1a1a" stroke="#1a1a1a" stroke-width="0.1" >)</text>
<text transform="translate(286.75,283.07) rotate(-90) scale(1.0,1)" font-size="10.73" letter-spacing="0.91" style='font-family:"Liberation Sans", sans-serif;font-weight:normal;font-style:normal' fill="#1a1a1a" stroke="#1a1a1a" stroke-width="0.1">130</text>
<text transform="translate(287.23,290.54) rotate(-90) scale(1.411,1)" font-size="13.63" style='font-family:"Liberation Sans", sans-serif;font-weight:normal;font-style:normal' fill="#1a1a1a" stroke="#1a1a1a" stroke-width="0.1" >(</text>
<text transform="translate(252.97,301.72) rotate(-90) scale(1.000,1)" font-size="12.45" style='font-family:"Liberation Sans", sans-serif;font-weight:normal;font-style:normal' fill="#1a1a1a" stroke="#1a1a1a" stroke-width="0.1" >)</text>
<text transform="translate(253.15,324.07) rotate(-90) scale(1.0,1)" font-size="10.73" letter-spacing="1.56" style='font-family:"Liberation Sans", sans-serif;font-weight:normal;font-style:normal' fill="#1a1a1a" stroke="#1a1a1a" stroke-width="0.1">104</text>
<text transform="translate(252.97,330.22) rotate(-90) scale(1.121,1)" font-size="12.45" style='font-family:"Liberation Sans", sans-serif;font-weight:normal;font-style:normal' fill="#1a1a1a" stroke="#1a1a1a" stroke-width="0.1" >(</text>
<text transform="translate(286.86,316.32) rotate(-90) scale(0.929,1)" font-size="12.99" style='font-family:"Liberation Sans", sans-serif;font-weight:normal;font-style:normal' fill="#1a1a1a" stroke="#1a1a1a" stroke-width="0.1" >)</text>
<text transform="translate(286.74,337.08) rotate(-90) scale(1.0,1)" font-size="10.88" letter-spacing="0.68" style='font-family:"Liberation Sans", sans-serif;font-weight:normal;font-style:normal' fill="#1a1a1a" stroke="#1a1a1a" stroke-width="0.1">113</text>
<text transform="translate(286.86,344.82) rotate(-90) scale(1.074,1)" font-size="12.99" style='font-family:"Liberation Sans", sans-serif;font-weight:normal;font-style:normal' fill="#1a1a1a" stroke="#1a1a1a" stroke-width="0.1" >(</text>
<text transform="translate(302.82,321.32) rotate(-90) scale(1.071,1)" font-size="11.27" style='font-family:"Liberation Sans", sans-serif;font-weight:normal;font-style:normal' fill="#1a1a1a" stroke="#1a1a1a" stroke-width="0.1" >)</text>
<text transform="translate(303.34,342.17) rotate(-90) scale(1.0,1)" font-size="10.88" letter-spacing="1.03" style='font-family:"Liberation Sans", sans-serif;font-weight:normal;font-style:normal' fill="#1a1a1a" stroke="#1a1a1a" stroke-width="0.1">018</text>
<text transform="translate(302.82,346.9) rotate(-90) scale(1.071,1)" font-size="11.27" style='font-family:"Liberation Sans", sans-serif;font-weight:normal;font-style:normal' fill="#1a1a1a" stroke="#1a1a1a" stroke-width="0.1" >(</text>
<text transform="translate(314.58,321.92) rotate(-90) scale(0.966,1)" font-size="12.88" style='font-family:"Liberation Sans", sans-serif;font-weight:normal;font-style:normal' fill="#1a1a1a" stroke="#1a1a1a" stroke-width="0.1" >)</text>
<text transform="translate(314.44,343.68) rotate(-90) scale(1.0,1)" font-size="10.88" letter-spacing="1.23" style='font-family:"Liberation Sans", sans-serif;font-weight:normal;font-style:normal' fill="#1a1a1a" stroke="#1a1a1a" stroke-width="0.1">116</text>
<text transform="translate(314.58,351.06) rotate(-90) scale(1.259,1)" font-size="12.88" style='font-family:"Liberation Sans", sans-serif;font-weight:normal;font-style:normal' fill="#1a1a1a" stroke="#1a1a1a" stroke-width="0.1" >(</text>
<path d="M213.4,285.02 L213.9,284.46 L214.4,285.19 L214.9,284.32 L215.4,283.78 L215.9,282.98 L216.4,284.3 L216.9,284.06 L217.4,283.23 L217.9,282.82 L218.4,283.05 L218.9,283.26 L219.4,282.23 L219.9,282.62 L220.4,283.14 L220.9,281.47 L221.4,281.84 L221.9,281.87 L222.4,281.39 L222.9,279.39 L223.4,282.02 L223.9,281.64 L224.4,281.19 L224.9,280.35 L225.4,280.23 L225.9,281.32 L226.4,281.18 L226.9,280.54 L227.4,280.37 L227.9,279.99 L228.4,280.59 L228.9,281.1 L229.4,280.97 L229.9,280.25 L230.4,280.47 L230.9,280.35 L231.4,279.53 L231.9,279.76 L232.4,279.12 L232.9,278.14 L233.4,279.07 L233.9,278.16 L234.4,277.31 L234.9,277.05 L235.4,277.63 L235.9,275.74 L236.4,274.51 L236.9,275.18 L237.4,273.27 L237.9,272.76 L238.4,272.09 L238.9,271.22 L239.4,271.07 L239.9,270.62 L240.4,268.62 L240.9,268.03 L241.4,268.33 L241.9,265.82 L242.4,266.59 L242.9,265.39 L243.4,264.27 L243.9,264.97 L244.4,264.89 L244.9,269.59 L245.4,269.79 L245.9,271.6 L246.4,273.49 L246.9,274.03 L247.4,275.04 L247.9,276.43 L248.4,277.08 L248.9,278.43 L249.4,280.32 L249.9,281.34 L250.4,281.87 L250.9,281.23 L251.4,282.78 L251.9,283.89 L252.4,284.5 L252.9,284.74 L253.4,285.28 L253.9,285.13 L254.4,287.07 L254.9,286.74 L255.4,287.78 L255.9,288.15 L256.4,288.83 L256.9,290.44 L257.4,290.15 L257.9,290.79 L258.4,292.23 L258.9,291.54 L259.4,292.87 L259.9,293.09 L260.4,294.27 L260.9,293.29 L261.4,293.35 L261.9,294.3 L262.4,295.54 L262.9,295.8 L263.4,295.22 L263.9,295.92 L264.4,295.35 L264.9,295.67 L265.4,296.7 L265.9,297.4 L266.4,297.19 L266.9,296.08 L267.4,295.71 L267.9,295.1 L268.4,296.62 L268.9,295.28 L269.4,295.56 L269.9,295.29 L270.4,295.78 L270.9,295.86 L271.4,294.84 L271.9,294.51 L272.4,295.91 L272.9,296.07 L273.4,295.37 L273.9,296.36 L274.4,297.86 L274.9,296.75 L275.4,297.4 L275.9,297.57 L276.4,296.87 L276.9,298.21 L277.4,297.42 L277.9,297.72 L278.4,296.87 L278.9,297.42 L279.4,296.41 L279.9,299.24 L280.4,298.84 L280.9,300.42 L281.4,300.44 L281.9,300.24 L282.4,301.33 L282.9,300.22 L283.4,301.62 L283.9,300.93 L284.4,299.11 L284.9,301.54 L285.4,302.74 L285.9,302.08 L286.4,302.78 L286.9,303.03 L287.4,302.98 L287.9,303.14 L288.4,303.26 L288.9,302.15 L289.4,302.91 L289.9,303.54 L290.4,303.31 L290.9,304.13 L291.4,302.57 L291.9,303.78 L292.4,303.89 L292.9,304.94 L293.4,304.45 L293.9,304.44 L294.4,305.28 L294.9,305.52 L295.4,305.65 L295.9,305.39 L296.4,305.4 L296.9,305.51 L297.4,303.58 L297.9,305.84 L298.4,306.21 L298.9,305.75 L299.4,306.1 L299.9,305.83 L300.4,306.62 L300.9,306.84 L301.4,307.06 L301.9,307.19 L302.4,306.37 L302.9,306.46 L303.4,306.82 L303.9,307.41 L304.4,307.58 L304.9,307.9 L305.4,307.78 L305.9,307.35 L306.4,308.55 L306.9,308.68 L307.4,308.57 L307.9,308.7 L308.4,308.34 L308.9,308.26 L309.4,308.91 L309.9,309.31 L310.4,309.53 L310.9,309.02 L311.4,309.6 L311.9,309.28 L312.4,309.85 L312.9,310.03 L313.4,309.65 L313.9,309.86 L314.4,309.92 L314.9,310.13 L315.4,310.57 L315.9,310.33 L316.4,310.52 L316.9,310.13 L317.4,309.31 L317.9,311.16 L318.4,311.08 L318.9,310.78 L319.4,311.05 L319.9,311.57 L320.4,311.67 L320.9,311.79 L321.4,311.55 L321.9,311.66 L322.4,311.61 L322.9,311.44 L323.4,312.01 L323.9,312.28 L324.4,312.13 L324.9,310.89 L325.4,311.83 L325.9,312.26 L326.4,311.95 L326.9,311.99 L327.4,312.05 L327.9,312.63 L328.4,312.89 L328.9,312.37 L329.4,312.82 L329.9,313.01 L330.4,312.65 L330.9,312.85 L331.4,313.06 L331.9,311.91 L332.4,313.34 L332.9,313.45 L333.4,313.32 L333.9,313.69 L334.4,313.19 L334.9,313.56 L335.4,313.15 L335.9,313.21 L336.4,313.89 L336.9,313.8 L337.4,313.89 L337.9,313.44 L338.4,313.93 L338.9,313.49 L339.4,313.64 L339.9,313.99 L340.4,313.63 L340.9,314.03 L341.4,313.92 L341.9,312.93 L342.4,313.94 L342.9,313.57 L343.4,314.16 L343.9,313.85 L344.4,314.48 L344.9,314.14 L345.4,314.52 L345.9,314.58 L346.4,313.23 L346.9,314.45 L347.4,314.2 L347.9,314.48 L348.4,314.81 L348.9,314.7 L349.4,314.27 L349.9,314.88 L350.4,314.94 L350.9,314.42 L351.4,314.83 L351.9,314.52 L352.4,314.66 L352.9,314.91 L353.4,314.47 L353.9,314.61 L354.4,314.54 L354.9,314.76 L355.4,314.91 L355.9,314.96 L356.4,315.15 L356.9,315.21 L357.4,314.53 L357.9,314.88 L358.4,314.92 L358.9,314.71 L359.4,314.69 L359.9,315.39 L360.4,314.81 L360.9,315.38 L361.4,315.15 L361.9,314.94 L362.4,315.12 L362.9,315.19 L363.4,315.13 L363.9,314.22 L364.4,314.83 L364.9,314.98 L365.4,314.97 L365.9,315.45 L366.4,315.15 L366.9,315.05 L367.4,315.37 L367.9,315.66 L368.4,315.32 L368.9,315.36 L369.4,315.24 L369.9,315.11 L370.4,315.43 L370.9,315.43 L371.4,315.57 L371.9,315.69 L372.4,315.71 L372.9,315.29 L373.4,315.57 L373.9,315.55 L374.4,314.83 L374.9,315.38 L375.4,315.81 L375.9,315.24 L376.4,315.62 L376.9,315.37 L377.4,315.48 L377.9,315.9 L378.4,315.51 L378.9,315.53 L379.4,315.87 L379.9,314.6 L380.4,315.45 L380.9,315.62 L381.4,315.58 L381.9,315.36 L382.4,315.51 L382.9,316.06 L383.4,315.79 L383.9,315.96 L384.4,315.97 L384.9,316.05 L385.4,315.81 L385.9,315.91 L386.4,315.83 L386.9,315.57 L387.4,315.93 L387.9,316.22 L388.4,316.01 L388.9,315.75 L389.4,316.22 L389.9,316.17 L390.4,315.57 L390.9,316.19 L391.4,316.2 L391.9,315.65 L392.4,315.66 L392.9,315.83 L393.4,315.69 L393.9,316.27 L394.4,316.28 L394.9,315.75 L395.4,315.99 L395.9,316.11 L396.4,315.96 L396.9,315.74 L397.4,314.87 L397.9,316.22 L397.9,318.97 L397.4,318.99 L396.9,318.55 L396.4,318.31 L395.9,319 L395.4,318.76 L394.9,318.25 L394.4,318.61 L393.9,318.59 L393.4,318.63 L392.9,318.6 L392.4,318.78 L391.9,318.63 L391.4,318.84 L390.9,318.32 L390.4,318.63 L389.9,319.27 L389.4,318.74 L388.9,318.37 L388.4,318.45 L387.9,318.62 L387.4,318.25 L386.9,318.32 L386.4,318.26 L385.9,318.51 L385.4,318.44 L384.9,318.58 L384.4,318.59 L383.9,318.53 L383.4,318.49 L382.9,319.08 L382.4,318.03 L381.9,318.08 L381.4,318.54 L380.9,318.31 L380.4,318.6 L379.9,318.61 L379.4,318.36 L378.9,318.16 L378.4,318.03 L377.9,318.14 L377.4,318.15 L376.9,318.33 L376.4,317.96 L375.9,318.1 L375.4,318.22 L374.9,318.13 L374.4,318.03 L373.9,317.87 L373.4,318.45 L372.9,317.77 L372.4,317.92 L371.9,317.85 L371.4,318.17 L370.9,318.3 L370.4,318.19 L369.9,318.09 L369.4,317.84 L368.9,317.96 L368.4,317.83 L367.9,317.68 L367.4,318.19 L366.9,317.97 L366.4,317.54 L365.9,317.99 L365.4,317.64 L364.9,317.57 L364.4,317.42 L363.9,317.53 L363.4,317.55 L362.9,317.95 L362.4,318.91 L361.9,317.61 L361.4,317.33 L360.9,317.87 L360.4,317.76 L359.9,317.91 L359.4,317.33 L358.9,317.28 L358.4,317.49 L357.9,317.73 L357.4,317.29 L356.9,317.19 L356.4,317.62 L355.9,317.68 L355.4,317.75 L354.9,317.61 L354.4,317.3 L353.9,317.73 L353.4,317 L352.9,317.44 L352.4,317.25 L351.9,317.53 L351.4,316.89 L350.9,317.17 L350.4,317.43 L349.9,317.43 L349.4,316.86 L348.9,317.16 L348.4,317.08 L347.9,316.81 L347.4,317.83 L346.9,317.05 L346.4,316.73 L345.9,316.98 L345.4,317.18 L344.9,316.59 L344.4,316.67 L343.9,316.87 L343.4,316.73 L342.9,316.31 L342.4,317.02 L341.9,316.8 L341.4,316.48 L340.9,316.78 L340.4,316.22 L339.9,316.77 L339.4,316.17 L338.9,316.56 L338.4,316.04 L337.9,316.14 L337.4,316.57 L336.9,316.48 L336.4,316.46 L335.9,316.18 L335.4,316.3 L334.9,316.42 L334.4,316.05 L333.9,316.1 L333.4,315.64 L332.9,315.89 L332.4,316.08 L331.9,315.78 L331.4,315.86 L330.9,315.79 L330.4,315.33 L329.9,317.03 L329.4,315.64 L328.9,315.86 L328.4,315.79 L327.9,315.85 L327.4,315.44 L326.9,315.15 L326.4,315.03 L325.9,315.02 L325.4,314.92 L324.9,314.95 L324.4,315.5 L323.9,317.1 L323.4,315.47 L322.9,314.91 L322.4,314.96 L321.9,315.11 L321.4,314.48 L320.9,314.64 L320.4,314.26 L319.9,314.41 L319.4,314.29 L318.9,314.94 L318.4,314.78 L317.9,314.81 L317.4,314.67 L316.9,313.76 L316.4,313.8 L315.9,313.82 L315.4,313.65 L314.9,313.7 L314.4,313.35 L313.9,313.86 L313.4,313.53 L312.9,313.06 L312.4,313.95 L311.9,314.61 L311.4,313.58 L310.9,313.29 L310.4,313.38 L309.9,312.84 L309.4,313.32 L308.9,313.95 L308.4,314.27 L307.9,312.96 L307.4,312.6 L306.9,311.64 L306.4,311.96 L305.9,311.58 L305.4,311.28 L304.9,311.53 L304.4,312.13 L303.9,312.52 L303.4,310.77 L302.9,311.03 L302.4,311.62 L301.9,310.48 L301.4,310.81 L300.9,310.74 L300.4,311.32 L299.9,310.3 L299.4,310.16 L298.9,310.05 L298.4,309.73 L297.9,309.92 L297.4,309.89 L296.9,309.69 L296.4,310.55 L295.9,310.91 L295.4,309.19 L294.9,309.35 L294.4,310.17 L293.9,311.8 L293.4,310.04 L292.9,308.81 L292.4,309.73 L291.9,310.78 L291.4,309.43 L290.9,308.51 L290.4,308.91 L289.9,308.81 L289.4,307.71 L288.9,308.04 L288.4,307.28 L287.9,307.19 L287.4,308.22 L286.9,307.17 L286.4,307.67 L285.9,308.27 L285.4,307.29 L284.9,310.18 L284.4,307.2 L283.9,306.83 L283.4,306.21 L282.9,305.79 L282.4,305.33 L281.9,305.49 L281.4,305.28 L280.9,305.87 L280.4,304 L279.9,303.8 L279.4,303.19 L278.9,303.85 L278.4,302.51 L277.9,302.92 L277.4,302.53 L276.9,302.95 L276.4,302.64 L275.9,303.18 L275.4,303.67 L274.9,303.46 L274.4,302.29 L273.9,302.85 L273.4,301.93 L272.9,301.86 L272.4,301.4 L271.9,300.78 L271.4,304.19 L270.9,301.66 L270.4,300.43 L269.9,302.06 L269.4,302.12 L268.9,302.23 L268.4,302.43 L267.9,301.39 L267.4,302.84 L266.9,302.39 L266.4,301.65 L265.9,302.24 L265.4,302.83 L264.9,304.48 L264.4,303.23 L263.9,301.43 L263.4,301.33 L262.9,300.65 L262.4,300.3 L261.9,300.57 L261.4,300.13 L260.9,299.9 L260.4,300.34 L259.9,298.82 L259.4,300.89 L258.9,297.83 L258.4,297.09 L257.9,296.57 L257.4,297.22 L256.9,296.52 L256.4,295.82 L255.9,294.56 L255.4,294.46 L254.9,293.08 L254.4,292.19 L253.9,294.54 L253.4,290.72 L252.9,289.96 L252.4,292.36 L251.9,289.35 L251.4,288.78 L250.9,288.97 L250.4,287.84 L249.9,287.08 L249.4,285.74 L248.9,285.54 L248.4,284.32 L247.9,282.6 L247.4,281.45 L246.9,280.81 L246.4,278.84 L245.9,278.41 L245.4,276.5 L244.9,275.44 L244.4,273.44 L243.9,271.76 L243.4,270.95 L242.9,271.31 L242.4,271.82 L241.9,272.68 L241.4,274.5 L240.9,274.25 L240.4,274.73 L239.9,275.56 L239.4,276.91 L238.9,277.64 L238.4,279.25 L237.9,278.75 L237.4,280.81 L236.9,280.35 L236.4,282.41 L235.9,283.11 L235.4,282.14 L234.9,283.19 L234.4,285.02 L233.9,284.56 L233.4,284.43 L232.9,285.85 L232.4,287.2 L231.9,289.61 L231.4,284.95 L230.9,286.49 L230.4,285.59 L229.9,285.35 L229.4,285.47 L228.9,285.99 L228.4,285.89 L227.9,287.36 L227.4,287.09 L226.9,287.68 L226.4,286.06 L225.9,286.56 L225.4,287.95 L224.9,286.81 L224.4,287.39 L223.9,287.19 L223.4,286.74 L222.9,288 L222.4,288.75 L221.9,288.32 L221.4,288.11 L220.9,288.01 L220.4,288.81 L219.9,289.14 L219.4,288.46 L218.9,289.14 L218.4,288.81 L217.9,289.21 L217.4,288.73 L216.9,289.84 L216.4,289.17 L215.9,289.22 L215.4,291.01 L214.9,290.97 L214.4,290.43 L213.9,290.49 L213.4,290.27Z" fill="#000" stroke="#000" stroke-width="0.3"/>
<path d="M213.4,282.72 L213.73,286.86 L214.06,288.35 L214.39,290.57 L214.72,283.97 L215.05,289.02 L215.38,288.27 L215.71,284.79 L216.04,288.32 L216.37,284.08 L216.7,284.27 L217.03,286.49 L217.36,278.29 L217.69,285.99 L218.02,283.2 L218.35,281.7 L218.68,284.7 L219.01,288.15 L219.34,284.54 L219.67,289.45 L220,282.06 L220.33,281.5 L220.66,289.98 L220.99,286.42 L221.32,287.95 L221.65,282.52 L221.98,287.31 L222.31,285.57 L222.64,286.62 L222.97,284.65 L223.3,288.08 L223.63,282.41 L223.96,281.38 L224.29,279.78 L224.62,287.64 L224.95,281.89 L225.28,280.91 L225.61,281.17 L225.94,282.59 L226.27,280.06 L226.6,282.94 L226.93,281.88 L227.26,282.05 L227.59,280.77 L227.92,283.7 L228.25,282.15 L228.58,283.82 L228.91,284.16 L229.24,284.34 L229.57,276.64 L229.9,281.49 L230.23,280.6 L230.56,285.2 L230.89,278.04 L231.22,280.52 L231.55,281.67 L231.88,281.43 L232.21,285.3 L232.54,280.89 L232.87,285 L233.2,277.6 L233.53,276.45 L233.86,285.44 L234.19,282.88 L234.52,282.58 L234.85,281.02 L235.18,281.65 L235.51,276.09 L235.84,282.12 L236.17,277.22 L236.5,281.31 L236.83,278.15 L237.16,271.51 L237.49,273.11 L237.82,279.89 L238.15,275.64 L238.48,274.38 L238.81,275.73 L239.14,273.16 L239.47,272.23 L239.8,273.61 L240.13,273.17 L240.46,276.72 L240.79,271.74 L241.12,276.68 L241.45,275.88 L241.78,275.06 L242.11,272.66 L242.44,269.52 L242.77,269.19 L243.1,268 L243.43,265.89 L243.76,268.18 L244.09,267.45 L244.42,275.28 L244.75,272.95 L245.08,271 L245.41,267.58 L245.74,274.16 L246.07,274.06 L246.4,272.88 L246.73,273.46 L247.06,270.84 L247.39,280.02 L247.72,278.85 L248.05,287.51 L248.38,280.4 L248.71,280.78 L249.04,286.28 L249.37,283.08 L249.7,283.9 L250.03,282.73 L250.36,282.48 L250.69,289.24 L251.02,288.19 L251.35,290.78 L251.68,285.03 L252.01,286.62 L252.34,284.33 L252.67,290.32 L253,283.69 L253.33,290 L253.66,292.05 L253.99,293.44 L254.32,286.83 L254.65,293.37 L254.98,288.37 L255.31,288.63 L255.64,287.32 L255.97,295.14 L256.3,297.01 L256.63,290.66 L256.96,290.56 L257.29,292.2 L257.62,301.13 L257.95,297.01 L258.28,292.75 L258.61,289.39 L258.94,293.14 L259.27,299.11 L259.6,301.53 L259.93,295.52 L260.26,294.5 L260.59,295.26 L260.92,291.34 L261.25,299.94 L261.58,294.18 L261.91,300.84 L262.24,292.74 L262.57,294.27 L262.9,299.16 L263.23,296.22 L263.56,301.07 L263.89,298.97 L264.22,295.64 L264.55,301.24 L264.88,302.12 L265.21,294.07 L265.54,305.15 L265.87,301.08 L266.2,301.76 L266.53,293.89 L266.86,297.17 L267.19,298.17 L267.52,302.26 L267.85,294.72 L268.18,296.32 L268.51,292.89 L268.84,298.01 L269.17,299.62 L269.5,293.65 L269.83,296.73 L270.16,299.8 L270.49,302.79 L270.82,300.05 L271.15,297.2 L271.48,294.63 L271.81,295.23 L272.14,295.96 L272.47,298.57 L272.8,298.34 L273.13,303.46 L273.46,299.91 L273.79,296.45 L274.12,304.03 L274.45,302.69 L274.78,300.67 L275.11,298.6 L275.44,295.39 L275.77,297.65 L276.1,302.86 L276.43,298.13 L276.76,296.67 L277.09,300.71 L277.42,300.77 L277.75,301.68 L278.08,301.82 L278.41,304.11 L278.74,298.41 L279.07,303.52 L279.4,298.6 L279.73,303.33 L280.06,302.26 L280.39,302.71 L280.72,304.88 L281.05,302.58 L281.38,305.67 L281.71,305.21 L282.04,303.46 L282.37,301.82 L282.7,301.5 L283.03,302.25 L283.36,303.24 L283.69,303.85 L284.02,311.61 L284.35,305.85 L284.68,306.33 L285.01,302.41 L285.34,302.95 L285.67,304.09 L286,305.48 L286.33,302.47 L286.66,309.02 L286.99,303.69 L287.32,307.73 L287.65,299.42 L287.98,305.12 L288.31,305.83 L288.64,305.64 L288.97,306.64 L289.3,306.03 L289.63,305.92 L289.96,301.21 L290.29,304.2 L290.62,300.53 L290.95,307.72 L291.28,307.14 L291.61,306.14 L291.94,304.85 L292.27,305.5 L292.6,311.18 L292.93,310.97 L293.26,306.91 L293.59,310.05 L293.92,303.54 L294.25,302.83 L294.58,306.2 L294.91,305.38 L295.24,306.16 L295.57,307.9 L295.9,314.29 L296.23,306.14 L296.56,307.79 L296.89,308.37 L297.22,307.76 L297.55,309.95 L297.88,311.86 L298.21,305.35 L298.54,308.48 L298.87,307.63 L299.2,309.05 L299.53,305.07 L299.86,304.68 L300.19,303.58 L300.52,309.69 L300.85,309.06 L301.18,308.88 L301.51,303.85 L301.84,308.1 L302.17,307.39 L302.5,306.1 L302.83,307.22 L303.16,310.61 L303.49,310.36 L303.82,309.29 L304.15,310.46 L304.48,308.29 L304.81,309.74 L305.14,309.77 L305.47,310.88 L305.8,309.73 L306.13,309.67 L306.46,309.78 L306.79,308.87 L307.12,314.59 L307.45,311.31 L307.78,311.23 L308.11,314.91 L308.44,313.28 L308.77,307.69 L309.1,312.08 L309.43,312.44 L309.76,314.5 L310.09,313.5 L310.42,312.56 L310.75,309.01 L311.08,309.68 L311.41,311.86 L311.74,312.35 L312.07,309.61 L312.4,310.85 L312.73,310.88 L313.06,311.78 L313.39,312.34 L313.72,311.28 L314.05,309.66 L314.38,314.12 L314.71,314.8 L315.04,311.86 L315.37,313.9 L315.7,312.94 L316.03,313.37 L316.36,313.12 L316.69,311.05 L317.02,313.4 L317.35,314.2 L317.68,311.03 L318.01,315.92 L318.34,316.17 L318.67,315.77 L319,316.09 L319.33,314.08 L319.66,312.36 L319.99,312 L320.32,311.72 L320.65,313.29 L320.98,313.12 L321.31,314.3 L321.64,310.08 L321.97,317.02 L322.3,317 L322.63,313.4 L322.96,314.54 L323.29,314.26 L323.62,313.98 L323.95,313.27 L324.28,313.44 L324.61,312.41 L324.94,313.97 L325.27,313.7 L325.6,314.25 L325.93,312.53 L326.26,313.9 L326.59,313.94 L326.92,314.79 L327.25,312.4 L327.58,314.59 L327.91,315.43 L328.24,314.91 L328.57,313.57 L328.9,313.43 L329.23,313.83 L329.56,315.21 L329.89,316.39 L330.22,314.05 L330.55,313.42 L330.88,314.85 L331.21,314.65 L331.54,313.19 L331.87,313.46 L332.2,314.35 L332.53,315.4 L332.86,312.99 L333.19,313.26 L333.52,315.27 L333.85,313.08 L334.18,314.83 L334.51,315.18 L334.84,314.63 L335.17,313.52 L335.5,314.76 L335.83,314.45 L336.16,315.33 L336.49,313.89 L336.82,316.36 L337.15,312.9 L337.48,314.81 L337.81,315.06 L338.14,316.29 L338.47,314.33 L338.8,315.8 L339.13,314.42 L339.46,316.09 L339.79,317.37 L340.12,314.7 L340.45,315.78 L340.78,314.08 L341.11,316.49 L341.44,316.81 L341.77,315.35 L342.1,313.9 L342.43,315.86 L342.76,316.82 L343.09,316.77 L343.42,316.44 L343.75,313.13 L344.08,314.6 L344.41,317.27 L344.74,313.96 L345.07,316.95 L345.4,317.92 L345.73,316.53 L346.06,317 L346.39,315.19 L346.72,314.09 L347.05,315.52 L347.38,315.42 L347.71,315.63 L348.04,316.59 L348.37,315.56 L348.7,316 L349.03,316.31 L349.36,315.8 L349.69,318.15 L350.02,316.4 L350.35,315.97 L350.68,315.63 L351.01,315.12 L351.34,317.62 L351.67,316.14 L352,314.61 L352.33,315.29 L352.66,315.84 L352.99,315.48 L353.32,317.42 L353.65,314.62 L353.98,316.72 L354.31,316.3 L354.64,314.66 L354.97,316.23 L355.3,316.07 L355.63,316.84 L355.96,315.65 L356.29,316.61 L356.62,314.14 L356.95,314.88 L357.28,317.25 L357.61,317.58 L357.94,316.26 L358.27,315.54 L358.6,317.67 L358.93,313.68 L359.26,315.32 L359.59,317.18 L359.92,317.17 L360.25,315.05 L360.58,313.99 L360.91,318.21 L361.24,316.58 L361.57,315.27 L361.9,316.48 L362.23,317.56 L362.56,313.16 L362.89,317.84 L363.22,317.38 L363.55,313.84 L363.88,317.44 L364.21,314.24 L364.54,317.93 L364.87,317.01 L365.2,319.35 L365.53,315.76 L365.86,316.54 L366.19,317.87 L366.52,315.75 L366.85,315.68 L367.18,316.11 L367.51,316.5 L367.84,315.24 L368.17,317.22 L368.5,317.31 L368.83,316.72 L369.16,318.79 L369.49,316.24 L369.82,318.31 L370.15,315.99 L370.48,317.64 L370.81,314.26 L371.14,316.96 L371.47,316.5 L371.8,316.11 L372.13,315.97 L372.46,316.32 L372.79,315.86 L373.12,314.01 L373.45,316.03 L373.78,316.1 L374.11,316.14 L374.44,315.48 L374.77,316.65 L375.1,317.82 L375.43,316.52 L375.76,316.23 L376.09,318.56 L376.42,318.09 L376.75,318.03 L377.08,318.34 L377.41,316.48 L377.74,316.73 L378.07,318.31 L378.4,316.21 L378.73,316.77 L379.06,317.4 L379.39,317.41 L379.72,316.6 L380.05,318.19 L380.38,316.74 L380.71,317.88 L381.04,318.33 L381.37,317.82 L381.7,317.92 L382.03,315.54 L382.36,315.36 L382.69,316.24 L383.02,317.63 L383.35,318.93 L383.68,315.5 L384.01,317.44 L384.34,315.98 L384.67,316.15 L385,316.73 L385.33,317.96 L385.66,317.36 L385.99,318.59 L386.32,315.87 L386.65,318.24 L386.98,318.3 L387.31,317.22 L387.64,317.74 L387.97,316.44 L388.3,315.79 L388.63,316.66 L388.96,316.37 L389.29,320.82 L389.62,316.58 L389.95,319.28 L390.28,317.46 L390.61,317.61 L390.94,318.16 L391.27,316.25 L391.6,318.4 L391.93,317.72 L392.26,315.35 L392.59,318.02 L392.92,317.97 L393.25,317.85 L393.58,319.29 L393.91,316.78 L394.24,317.95 L394.57,318.26 L394.9,316.19 L395.23,318.84 L395.56,315.51 L395.89,315.71 L396.22,318.01 L396.55,315.99 L396.88,317.23 L397.21,315.31 L397.54,317.48 L397.87,315.97" fill="none" stroke="#000" stroke-width="0.45"/>
<path d="M213.4,333.27 L213.9,333.37 L214.4,334.27 L214.9,334.03 L215.4,334.85 L215.9,335.21 L216.4,334.79 L216.9,336.07 L217.4,335.64 L217.9,335.45 L218.4,335.17 L218.9,336.55 L219.4,335.95 L219.9,337.24 L220.4,336.42 L220.9,337.07 L221.4,335.87 L221.9,335.97 L222.4,335.3 L222.9,334.95 L223.4,334.84 L223.9,334.97 L224.4,334.49 L224.9,333.98 L225.4,334.6 L225.9,333.1 L226.4,332.86 L226.9,332.51 L227.4,331.33 L227.9,332.36 L228.4,331.92 L228.9,327.52 L229.4,330.16 L229.9,330.8 L230.4,329.79 L230.9,329.37 L231.4,330.07 L231.9,330.09 L232.4,329.73 L232.9,330.48 L233.4,330.5 L233.9,330.74 L234.4,329.84 L234.9,331.07 L235.4,332.26 L235.9,332.63 L236.4,332.86 L236.9,333.47 L237.4,332.99 L237.9,333.45 L238.4,333.18 L238.9,334.71 L239.4,334.05 L239.9,334.81 L240.4,334.37 L240.9,334.3 L241.4,335.4 L241.9,334.54 L242.4,334.94 L242.9,335.53 L243.4,335.35 L243.9,334.69 L244.4,335.15 L244.9,335.32 L245.4,335.69 L245.9,334.53 L246.4,336.94 L246.9,336.44 L247.4,336.56 L247.9,337.44 L248.4,337.8 L248.9,338.46 L249.4,338.44 L249.9,337.86 L250.4,338.82 L250.9,337.97 L251.4,338.74 L251.9,339.32 L252.4,339 L252.9,340.1 L253.4,339.87 L253.9,340.34 L254.4,340.08 L254.9,340.65 L255.4,341.27 L255.9,341.46 L256.4,341.98 L256.9,341.21 L257.4,342.15 L257.9,342.68 L258.4,342.72 L258.9,343.47 L259.4,343.77 L259.9,344.04 L260.4,343.62 L260.9,343.79 L261.4,341.86 L261.9,345 L262.4,344.24 L262.9,344.87 L263.4,345.91 L263.9,342.93 L264.4,345.7 L264.9,346.57 L265.4,346.66 L265.9,346.98 L266.4,344.47 L266.9,346.58 L267.4,347.12 L267.9,346.96 L268.4,347.66 L268.9,347.91 L269.4,346.72 L269.9,346.83 L270.4,347.38 L270.9,347.02 L271.4,346.61 L271.9,348.02 L272.4,347.89 L272.9,348.28 L273.4,348.12 L273.9,348.92 L274.4,348.23 L274.9,348.33 L275.4,349.05 L275.9,348.08 L276.4,348.11 L276.9,349 L277.4,349.08 L277.9,348.76 L278.4,348.9 L278.9,348.45 L279.4,348.11 L279.9,348.31 L280.4,348.93 L280.9,349.45 L281.4,348.36 L281.9,349.2 L282.4,347.57 L282.9,349.35 L283.4,349.08 L283.9,348.64 L284.4,349.43 L284.9,349.6 L285.4,349.11 L285.9,349.12 L286.4,349.22 L286.9,349.63 L287.4,348.89 L287.9,349.24 L288.4,349.65 L288.9,349.35 L289.4,349.01 L289.9,348.69 L290.4,348.89 L290.9,348.59 L291.4,348.75 L291.9,349.31 L292.4,349.34 L292.9,349.33 L293.4,349.72 L293.9,349.41 L294.4,350 L294.9,349.47 L295.4,349.52 L295.9,349.1 L296.4,349.35 L296.9,349.08 L297.4,349.75 L297.9,349.97 L298.4,349.91 L298.9,349.91 L299.4,350.76 L299.9,349.96 L300.4,350.39 L300.9,349.4 L301.4,350.77 L301.9,351.43 L302.4,351.48 L302.9,351.52 L303.4,351.6 L303.9,351.08 L304.4,351.45 L304.9,351.01 L305.4,350.84 L305.9,349.47 L306.4,351.2 L306.9,350.34 L307.4,351.63 L307.9,351.85 L308.4,349.44 L308.9,351.3 L309.4,351.57 L309.9,352.38 L310.4,352.13 L310.9,352.18 L311.4,352.44 L311.9,352.49 L312.4,352.49 L312.9,352.7 L313.4,352.15 L313.9,352.49 L314.4,352.44 L314.9,352.89 L315.4,352.3 L315.9,352.93 L316.4,353.27 L316.9,353.25 L317.4,353.07 L317.9,352.52 L318.4,352.87 L318.9,351.27 L319.4,352.76 L319.9,353.21 L320.4,352.95 L320.9,353.2 L321.4,352.8 L321.9,353.55 L322.4,353.36 L322.9,353.17 L323.4,352.91 L323.9,353.53 L324.4,353.5 L324.9,353.85 L325.4,353.36 L325.9,353.81 L326.4,353.89 L326.9,353.5 L327.4,353.27 L327.9,353.81 L328.4,353.45 L328.9,353.51 L329.4,353.9 L329.9,353.73 L330.4,353.96 L330.9,353.75 L331.4,354.05 L331.9,353.57 L332.4,353.6 L332.9,354.07 L333.4,353.89 L333.9,353.57 L334.4,353.75 L334.9,354.09 L335.4,353.46 L335.9,354.35 L336.4,354.17 L336.9,353.96 L337.4,353.87 L337.9,354.19 L338.4,354 L338.9,354.07 L339.4,353.99 L339.9,354.47 L340.4,354.18 L340.9,354.22 L341.4,354.23 L341.9,354.21 L342.4,354.31 L342.9,354.06 L343.4,354.58 L343.9,354.11 L344.4,354.15 L344.9,354.38 L345.4,354.07 L345.9,354.71 L346.4,354.5 L346.9,354.37 L347.4,354.13 L347.9,354.61 L348.4,354.44 L348.9,354.21 L349.4,354.75 L349.9,354.4 L350.4,354.6 L350.9,354.5 L351.4,354.79 L351.9,354.79 L352.4,354.45 L352.9,354.38 L353.4,354.77 L353.9,354.82 L354.4,354.43 L354.9,354.8 L355.4,354.71 L355.9,354.53 L356.4,354.34 L356.9,354.67 L357.4,354.8 L357.9,354.45 L358.4,354.39 L358.9,354.32 L359.4,354.47 L359.9,354.67 L360.4,354.97 L360.9,354.43 L361.4,354.36 L361.9,355.03 L362.4,354.54 L362.9,355.03 L363.4,354.53 L363.9,355.04 L364.4,354.86 L364.9,355.01 L365.4,354.51 L365.9,354.52 L366.4,355.08 L366.9,354.81 L367.4,355.04 L367.9,353.45 L368.4,354.63 L368.9,354.68 L369.4,354.85 L369.9,354.82 L370.4,354.74 L370.9,354.55 L371.4,354.68 L371.9,354.62 L372.4,355 L372.9,354.81 L373.4,355.17 L373.9,354.61 L374.4,354.77 L374.9,355.19 L375.4,355.27 L375.9,354.65 L376.4,354.76 L376.9,354.76 L377.4,354.77 L377.9,354.68 L378.4,354.68 L378.9,355.22 L379.4,355.04 L379.9,355.12 L380.4,354.73 L380.9,354.94 L381.4,353.87 L381.9,354.84 L382.4,355.19 L382.9,354.99 L383.4,354.94 L383.9,354.09 L384.4,355.26 L384.9,354.82 L385.4,355.11 L385.9,355.34 L386.4,355.48 L386.9,354.9 L387.4,355.09 L387.9,354.83 L388.4,355.05 L388.9,355.03 L389.4,355.03 L389.9,354.82 L390.4,355.13 L390.9,354.22 L391.4,354.86 L391.9,355.13 L392.4,355.09 L392.9,355.17 L393.4,354.99 L393.9,355.06 L394.4,355.16 L394.9,355.48 L395.4,355.06 L395.9,355.38 L396.4,355.47 L396.9,355.38 L397.4,355.33 L397.9,355.47 L397.9,358.03 L397.4,357.65 L396.9,357.68 L396.4,357.58 L395.9,357.63 L395.4,357.47 L394.9,357.71 L394.4,357.93 L393.9,357.82 L393.4,357.81 L392.9,357.62 L392.4,357.51 L391.9,357.34 L391.4,357.94 L390.9,357.83 L390.4,357.6 L389.9,357.32 L389.4,357.92 L388.9,357.72 L388.4,357.58 L387.9,357.89 L387.4,357.87 L386.9,357.42 L386.4,357.36 L385.9,357.82 L385.4,357.91 L384.9,357.65 L384.4,357.9 L383.9,357.69 L383.4,357.51 L382.9,357.4 L382.4,357.34 L381.9,357.48 L381.4,358.33 L380.9,357.77 L380.4,357.75 L379.9,357.72 L379.4,357.8 L378.9,357.28 L378.4,357.7 L377.9,357.51 L377.4,357.68 L376.9,357.69 L376.4,357.78 L375.9,357.59 L375.4,357.61 L374.9,357.54 L374.4,357.74 L373.9,357.65 L373.4,357.22 L372.9,357.16 L372.4,357.11 L371.9,357.04 L371.4,357.27 L370.9,357.04 L370.4,357.05 L369.9,357.16 L369.4,357.19 L368.9,357.94 L368.4,357.37 L367.9,357.59 L367.4,357.03 L366.9,357.19 L366.4,357.25 L365.9,356.99 L365.4,357.24 L364.9,357.56 L364.4,357.14 L363.9,357.33 L363.4,358.25 L362.9,357.24 L362.4,356.96 L361.9,357.06 L361.4,357.05 L360.9,358.01 L360.4,356.89 L359.9,357.4 L359.4,357.12 L358.9,357.13 L358.4,356.83 L357.9,357.04 L357.4,357.11 L356.9,356.73 L356.4,356.81 L355.9,356.8 L355.4,356.84 L354.9,357.99 L354.4,356.84 L353.9,357.21 L353.4,357.29 L352.9,356.83 L352.4,357.19 L351.9,357.03 L351.4,358.21 L350.9,357.25 L350.4,357.08 L349.9,356.79 L349.4,356.77 L348.9,356.68 L348.4,356.88 L347.9,356.55 L347.4,357.08 L346.9,356.79 L346.4,356.67 L345.9,357.18 L345.4,356.56 L344.9,356.85 L344.4,356.77 L343.9,356.81 L343.4,356.97 L342.9,356.92 L342.4,356.38 L341.9,356.93 L341.4,356.96 L340.9,356.64 L340.4,357.98 L339.9,356.82 L339.4,356.52 L338.9,356.9 L338.4,356.81 L337.9,356.72 L337.4,357.54 L336.9,356.79 L336.4,356.33 L335.9,356.27 L335.4,356.4 L334.9,356.49 L334.4,356.66 L333.9,356.61 L333.4,356.43 L332.9,356.16 L332.4,356.69 L331.9,357.64 L331.4,356.69 L330.9,356.46 L330.4,356.16 L329.9,356.61 L329.4,356.52 L328.9,356.28 L328.4,356.33 L327.9,356.52 L327.4,356.42 L326.9,357.64 L326.4,356.57 L325.9,356.69 L325.4,356.29 L324.9,356.48 L324.4,356.31 L323.9,356.31 L323.4,356.71 L322.9,356.41 L322.4,357.84 L321.9,357.37 L321.4,356.71 L320.9,356.74 L320.4,356.36 L319.9,356.05 L319.4,355.99 L318.9,355.97 L318.4,355.89 L317.9,355.84 L317.4,356.66 L316.9,355.89 L316.4,356.58 L315.9,355.66 L315.4,355.78 L314.9,356.44 L314.4,355.97 L313.9,356.37 L313.4,356.26 L312.9,356.27 L312.4,356.37 L311.9,355.5 L311.4,355.51 L310.9,356.18 L310.4,356.08 L309.9,355.91 L309.4,355.57 L308.9,355.58 L308.4,355.17 L307.9,355.11 L307.4,355.52 L306.9,354.96 L306.4,355.22 L305.9,354.92 L305.4,355.24 L304.9,355.57 L304.4,355.5 L303.9,355.24 L303.4,355.51 L302.9,354.68 L302.4,355.15 L301.9,355.45 L301.4,354.99 L300.9,354.7 L300.4,354.62 L299.9,354.32 L299.4,354.64 L298.9,354.99 L298.4,355.03 L297.9,354.84 L297.4,353.96 L296.9,353.94 L296.4,353.63 L295.9,353.92 L295.4,353.5 L294.9,354.52 L294.4,353.63 L293.9,353.91 L293.4,353.11 L292.9,353.34 L292.4,353.44 L291.9,353.76 L291.4,354.02 L290.9,354.3 L290.4,353.54 L289.9,354.24 L289.4,356.3 L288.9,353.76 L288.4,353.29 L287.9,353.12 L287.4,355.65 L286.9,353.35 L286.4,353.42 L285.9,354.36 L285.4,353.81 L284.9,353.41 L284.4,353.87 L283.9,355.95 L283.4,353.38 L282.9,353.99 L282.4,353.35 L281.9,353.46 L281.4,353.33 L280.9,354.04 L280.4,354.23 L279.9,354.14 L279.4,353.35 L278.9,354.41 L278.4,354.15 L277.9,353.08 L277.4,354.23 L276.9,354.51 L276.4,353.17 L275.9,354.18 L275.4,353.67 L274.9,353.89 L274.4,353.31 L273.9,353.78 L273.4,353.06 L272.9,353 L272.4,353.42 L271.9,352.82 L271.4,354.05 L270.9,353.33 L270.4,353.48 L269.9,353.43 L269.4,353.85 L268.9,352.42 L268.4,352.95 L267.9,353.53 L267.4,352.79 L266.9,352.73 L266.4,353.17 L265.9,355.65 L265.4,351.95 L264.9,352.45 L264.4,352.49 L263.9,351.37 L263.4,351.27 L262.9,350.88 L262.4,350.29 L261.9,350 L261.4,349.6 L260.9,350.65 L260.4,348.74 L259.9,349.25 L259.4,349.32 L258.9,347.79 L258.4,348.26 L257.9,348.39 L257.4,347.3 L256.9,348.12 L256.4,347.59 L255.9,347.6 L255.4,347.47 L254.9,346.48 L254.4,346.61 L253.9,345.57 L253.4,345.4 L252.9,345.66 L252.4,344.56 L251.9,345.11 L251.4,344.76 L250.9,344.92 L250.4,343.64 L249.9,343.9 L249.4,344.54 L248.9,343.14 L248.4,342.54 L247.9,342.22 L247.4,342.4 L246.9,342.01 L246.4,343.82 L245.9,342.42 L245.4,341.26 L244.9,341.12 L244.4,341.07 L243.9,343.26 L243.4,341.77 L242.9,340.31 L242.4,340.48 L241.9,340.04 L241.4,340.03 L240.9,340.57 L240.4,339.94 L239.9,340.85 L239.4,339.86 L238.9,340.32 L238.4,339.85 L237.9,339.51 L237.4,339.97 L236.9,339.54 L236.4,337.89 L235.9,340.28 L235.4,338.07 L234.9,336.83 L234.4,336.18 L233.9,335.63 L233.4,336.7 L232.9,335.74 L232.4,336.58 L231.9,336.34 L231.4,334.75 L230.9,336.18 L230.4,335.4 L229.9,336.7 L229.4,336.17 L228.9,336.08 L228.4,337.29 L227.9,338.1 L227.4,338.2 L226.9,338.09 L226.4,339.19 L225.9,338.47 L225.4,339.56 L224.9,339.8 L224.4,339.85 L223.9,340.13 L223.4,341.61 L222.9,341.42 L222.4,341.17 L221.9,342.92 L221.4,343.2 L220.9,342.57 L220.4,343.38 L219.9,342.7 L219.4,342.72 L218.9,343.15 L218.4,342.88 L217.9,342.51 L217.4,340.97 L216.9,341.09 L216.4,341.76 L215.9,341.01 L215.4,340.59 L214.9,341.04 L214.4,340.94 L213.9,339.05 L213.4,340Z" fill="#ff0000" stroke="#ff0000" stroke-width="0.3"/>
<path d="M213.4,333.48 L213.73,333.11 L214.06,336.39 L214.39,338.71 L214.72,337.51 L215.05,334.33 L215.38,333.74 L215.71,336.34 L216.04,338.08 L216.37,335.92 L216.7,334.23 L217.03,343.38 L217.36,336.4 L217.69,338.45 L218.02,337.53 L218.35,337.6 L218.68,339.49 L219.01,338.73 L219.34,341.42 L219.67,336.61 L220,335.95 L220.33,345.56 L220.66,339.75 L220.99,341.85 L221.32,342.77 L221.65,340.82 L221.98,339.17 L222.31,334.56 L222.64,334.21 L222.97,341.1 L223.3,340.05 L223.63,339.53 L223.96,333.16 L224.29,331.63 L224.62,334.38 L224.95,333.81 L225.28,337.29 L225.61,333.79 L225.94,340.7 L226.27,334.34 L226.6,334.24 L226.93,337.9 L227.26,336.15 L227.59,332.49 L227.92,336.97 L228.25,339.74 L228.58,330.76 L228.91,333.19 L229.24,330.63 L229.57,327.97 L229.9,334.79 L230.23,334.72 L230.56,335.21 L230.89,333.64 L231.22,326.97 L231.55,332.55 L231.88,330.86 L232.21,329.54 L232.54,329.83 L232.87,335.09 L233.2,332.24 L233.53,338.59 L233.86,334.54 L234.19,328.1 L234.52,336.18 L234.85,337.49 L235.18,334.44 L235.51,331.31 L235.84,339.89 L236.17,331.67 L236.5,335.4 L236.83,330.67 L237.16,332.8 L237.49,331.88 L237.82,339.77 L238.15,340.1 L238.48,335.79 L238.81,333.24 L239.14,336.91 L239.47,338.21 L239.8,333.01 L240.13,334.11 L240.46,337.12 L240.79,339.44 L241.12,337.77 L241.45,338.9 L241.78,334.26 L242.11,330.9 L242.44,338.76 L242.77,335.43 L243.1,337.71 L243.43,337.09 L243.76,339.55 L244.09,336.15 L244.42,342.39 L244.75,338.61 L245.08,340.16 L245.41,340.61 L245.74,341.91 L246.07,340.32 L246.4,334.5 L246.73,337.78 L247.06,344.88 L247.39,341.18 L247.72,341.59 L248.05,341.5 L248.38,338.58 L248.71,338.65 L249.04,338.9 L249.37,344.1 L249.7,342.05 L250.03,346.16 L250.36,342.76 L250.69,346.81 L251.02,342.98 L251.35,338.58 L251.68,346.89 L252.01,343.14 L252.34,345.69 L252.67,343.12 L253,341.78 L253.33,343.32 L253.66,339.88 L253.99,339.84 L254.32,340.86 L254.65,342.04 L254.98,339.88 L255.31,343.54 L255.64,344.84 L255.97,349.82 L256.3,349.46 L256.63,344.34 L256.96,347.11 L257.29,344.19 L257.62,346.06 L257.95,345.03 L258.28,343.78 L258.61,345.71 L258.94,341.57 L259.27,347.15 L259.6,345.32 L259.93,343.31 L260.26,345.54 L260.59,348.31 L260.92,345.07 L261.25,348.51 L261.58,348.99 L261.91,351.97 L262.24,344.77 L262.57,347.71 L262.9,349.67 L263.23,352.65 L263.56,349.39 L263.89,350.98 L264.22,344.96 L264.55,347.65 L264.88,354.16 L265.21,348.9 L265.54,355.79 L265.87,347.77 L266.2,349.08 L266.53,345.48 L266.86,351.71 L267.19,350.73 L267.52,355.6 L267.85,350.55 L268.18,349.47 L268.51,346.36 L268.84,350.03 L269.17,352.87 L269.5,352.35 L269.83,353.71 L270.16,352.78 L270.49,350.38 L270.82,352.17 L271.15,351.06 L271.48,347.1 L271.81,355.24 L272.14,351.74 L272.47,348.02 L272.8,351.86 L273.13,351.65 L273.46,353.56 L273.79,354.77 L274.12,343.1 L274.45,352.47 L274.78,355.01 L275.11,348.61 L275.44,346.29 L275.77,351.81 L276.1,351.97 L276.43,352.02 L276.76,348.31 L277.09,349.97 L277.42,351.66 L277.75,353.06 L278.08,356.71 L278.41,351.95 L278.74,349.72 L279.07,345.36 L279.4,353.93 L279.73,350.95 L280.06,351.02 L280.39,348.87 L280.72,353.12 L281.05,346.95 L281.38,351.62 L281.71,351.66 L282.04,352.11 L282.37,354.55 L282.7,351.16 L283.03,351.63 L283.36,353.45 L283.69,347.7 L284.02,350.7 L284.35,351.56 L284.68,353.66 L285.01,349.51 L285.34,353.29 L285.67,352.3 L286,347.93 L286.33,347.96 L286.66,348.08 L286.99,351.72 L287.32,351.88 L287.65,353.06 L287.98,353.28 L288.31,350.14 L288.64,353.83 L288.97,353.26 L289.3,352.47 L289.63,352.48 L289.96,348.51 L290.29,352.21 L290.62,349.1 L290.95,348.75 L291.28,350.63 L291.61,351.71 L291.94,351.28 L292.27,350.68 L292.6,349.21 L292.93,351.83 L293.26,349.87 L293.59,348.49 L293.92,351.79 L294.25,354.76 L294.58,350.83 L294.91,349.49 L295.24,354.74 L295.57,355.48 L295.9,351.29 L296.23,351.52 L296.56,352.46 L296.89,358.23 L297.22,352.41 L297.55,354.24 L297.88,353.15 L298.21,348.55 L298.54,350.09 L298.87,349.89 L299.2,353.34 L299.53,352.73 L299.86,356.18 L300.19,352.08 L300.52,353.29 L300.85,352.88 L301.18,353.06 L301.51,357.42 L301.84,353.45 L302.17,355.84 L302.5,355.54 L302.83,351.87 L303.16,354.44 L303.49,352.4 L303.82,353.39 L304.15,353.51 L304.48,353.28 L304.81,352.38 L305.14,356.26 L305.47,352.85 L305.8,354.7 L306.13,356.56 L306.46,354.62 L306.79,355.39 L307.12,356.09 L307.45,355.56 L307.78,356.74 L308.11,351.01 L308.44,357.22 L308.77,353.74 L309.1,350.57 L309.43,352.61 L309.76,351.3 L310.09,353.79 L310.42,351.22 L310.75,352.12 L311.08,354.45 L311.41,354.24 L311.74,352.61 L312.07,353.63 L312.4,353.9 L312.73,354.23 L313.06,354.12 L313.39,353.79 L313.72,355.69 L314.05,351.53 L314.38,353.44 L314.71,354.53 L315.04,353.67 L315.37,353.46 L315.7,353.69 L316.03,354.79 L316.36,356.51 L316.69,354.21 L317.02,354.11 L317.35,355.15 L317.68,354.23 L318.01,351.56 L318.34,355.11 L318.67,354.11 L319,353.82 L319.33,355.71 L319.66,354.81 L319.99,353.87 L320.32,351.4 L320.65,352.13 L320.98,354.8 L321.31,354.61 L321.64,355.46 L321.97,355.15 L322.3,354.11 L322.63,352.95 L322.96,353.22 L323.29,354.65 L323.62,353.18 L323.95,355.98 L324.28,352.97 L324.61,352.32 L324.94,354.63 L325.27,352.39 L325.6,357.24 L325.93,353.54 L326.26,354.88 L326.59,354.62 L326.92,353.84 L327.25,352.55 L327.58,352.44 L327.91,356.19 L328.24,356.4 L328.57,357.94 L328.9,353.08 L329.23,355.8 L329.56,355.04 L329.89,356.18 L330.22,354.41 L330.55,356.03 L330.88,356.26 L331.21,355.89 L331.54,356.97 L331.87,354.91 L332.2,357.1 L332.53,354.28 L332.86,357.25 L333.19,351.77 L333.52,355.2 L333.85,354.22 L334.18,355.21 L334.51,356.47 L334.84,356.09 L335.17,355.36 L335.5,357.29 L335.83,353.5 L336.16,354.3 L336.49,357.09 L336.82,355.69 L337.15,352.82 L337.48,355.72 L337.81,353.91 L338.14,357.11 L338.47,356.72 L338.8,354.7 L339.13,356.92 L339.46,354.38 L339.79,356.49 L340.12,356.1 L340.45,355.26 L340.78,353.72 L341.11,355.1 L341.44,352.7 L341.77,354.78 L342.1,353.25 L342.43,356.93 L342.76,354.33 L343.09,352.59 L343.42,356.21 L343.75,355.96 L344.08,354.92 L344.41,358.08 L344.74,356.48 L345.07,355.64 L345.4,354.8 L345.73,352.05 L346.06,356.17 L346.39,356.75 L346.72,354.9 L347.05,353.93 L347.38,355.58 L347.71,353.63 L348.04,355.65 L348.37,356.57 L348.7,357.46 L349.03,355.98 L349.36,355.9 L349.69,356.57 L350.02,357.36 L350.35,355.31 L350.68,354.23 L351.01,354.76 L351.34,354.2 L351.67,354.65 L352,355.58 L352.33,356.14 L352.66,355.93 L352.99,355.83 L353.32,355.33 L353.65,356.27 L353.98,356.83 L354.31,356.69 L354.64,357.58 L354.97,355.44 L355.3,355.5 L355.63,357.83 L355.96,356.05 L356.29,356.31 L356.62,355.42 L356.95,356.99 L357.28,355.36 L357.61,354.64 L357.94,355.78 L358.27,355.33 L358.6,356.87 L358.93,355.42 L359.26,356.03 L359.59,355.63 L359.92,356.3 L360.25,355.15 L360.58,357.23 L360.91,354.21 L361.24,355.46 L361.57,355.08 L361.9,356.72 L362.23,356 L362.56,356.53 L362.89,355.57 L363.22,355.11 L363.55,354.64 L363.88,355.58 L364.21,355.35 L364.54,356.33 L364.87,356.43 L365.2,357.18 L365.53,355.89 L365.86,355.13 L366.19,354.76 L366.52,356.11 L366.85,356.48 L367.18,358.39 L367.51,356.28 L367.84,358.17 L368.17,358.32 L368.5,354.83 L368.83,357.54 L369.16,357.46 L369.49,357.71 L369.82,356.1 L370.15,357.26 L370.48,355.55 L370.81,356.05 L371.14,356.16 L371.47,358.28 L371.8,355.9 L372.13,357.3 L372.46,356.25 L372.79,355.33 L373.12,356.47 L373.45,356.98 L373.78,355.35 L374.11,356.96 L374.44,355.35 L374.77,355.16 L375.1,356.48 L375.43,355.94 L375.76,355.05 L376.09,354.28 L376.42,356.26 L376.75,356.53 L377.08,355.69 L377.41,356.47 L377.74,354.42 L378.07,356.72 L378.4,356.75 L378.73,356.59 L379.06,355.53 L379.39,356.36 L379.72,356.43 L380.05,357.56 L380.38,356.61 L380.71,356.59 L381.04,355.42 L381.37,357.32 L381.7,357.7 L382.03,355.71 L382.36,357.07 L382.69,356.68 L383.02,356.26 L383.35,354.78 L383.68,358.42 L384.01,354.09 L384.34,356.69 L384.67,355.88 L385,357.71 L385.33,355.84 L385.66,356.39 L385.99,357.08 L386.32,356.9 L386.65,355.74 L386.98,357.18 L387.31,356.84 L387.64,357.55 L387.97,355.76 L388.3,356.32 L388.63,355.92 L388.96,355.39 L389.29,356.7 L389.62,356.88 L389.95,358.1 L390.28,356.02 L390.61,356.87 L390.94,357.78 L391.27,356.28 L391.6,356.5 L391.93,356.58 L392.26,355.6 L392.59,355.25 L392.92,357.77 L393.25,356.65 L393.58,356.36 L393.91,354.97 L394.24,356.59 L394.57,357.86 L394.9,355.09 L395.23,355.4 L395.56,357.79 L395.89,358.18 L396.22,358.33 L396.55,355.82 L396.88,357.2 L397.21,355.59 L397.54,357.12 L397.87,356.06" fill="none" stroke="#ff0000" stroke-width="0.45"/>
<line x1="258.3" y1="328.1" x2="258.3" y2="345" stroke="#ff0000" stroke-width="0.6" />
<line x1="243.6" y1="263.5" x2="243.6" y2="272" stroke="#000" stroke-width="0.6" />
</svg>
</body></html>
